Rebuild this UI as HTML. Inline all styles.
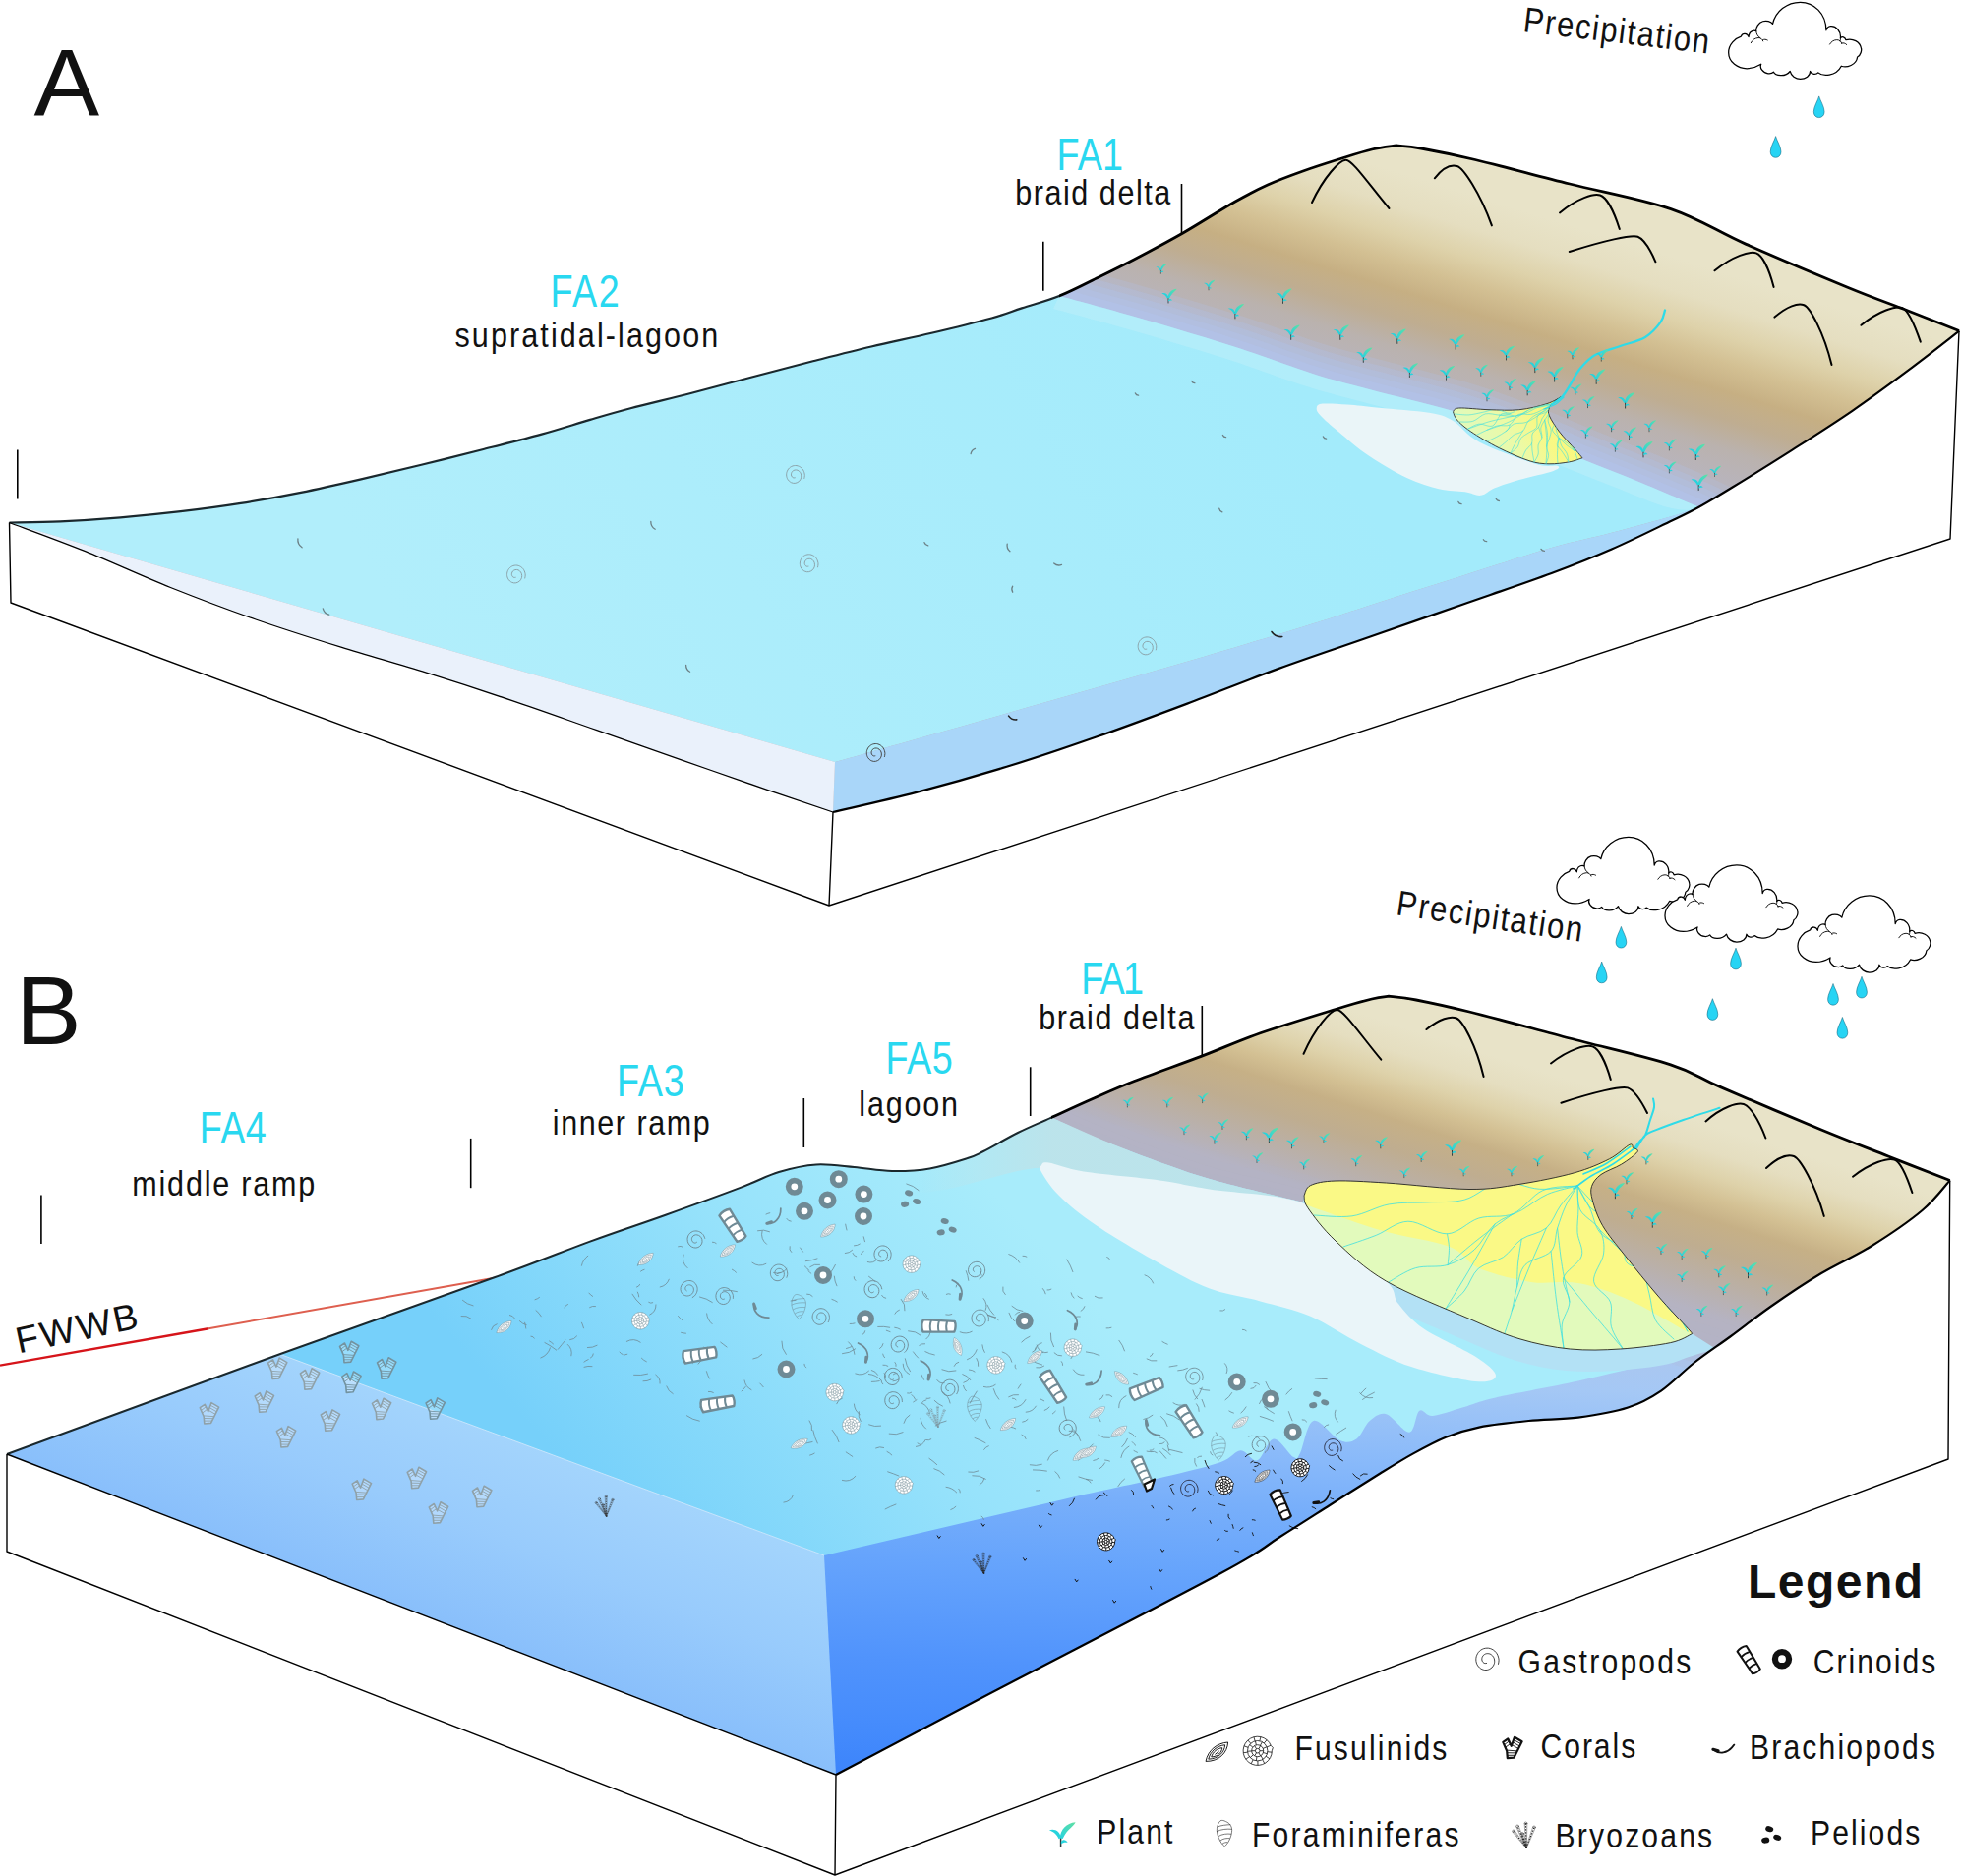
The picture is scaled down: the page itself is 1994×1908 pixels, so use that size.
<!DOCTYPE html>
<html><head><meta charset="utf-8"><title>Depositional model</title>
<style>
html,body{margin:0;padding:0;background:#fff;}
svg{display:block;}
text{font-family:"Liberation Sans",sans-serif;}
</style></head><body>
<svg width="1994" height="1908" viewBox="0 0 1994 1908">
<defs>
<linearGradient id="hillA" gradientUnits="userSpaceOnUse" x1="1528" y1="207.7" x2="1467.7" y2="402.5">
<stop offset="0" stop-color="#e8e3c8"/><stop offset="0.16" stop-color="#e5dec0"/><stop offset="0.30" stop-color="#ded2aa"/><stop offset="0.43" stop-color="#d3c093"/>
<stop offset="0.564" stop-color="#c6af83"/><stop offset="0.70" stop-color="#bfad91"/><stop offset="0.84" stop-color="#bab2ae"/>
<stop offset="1" stop-color="#b8b4bc"/></linearGradient>
<linearGradient id="waterA" gradientUnits="userSpaceOnUse" x1="1300" y1="350" x2="500" y2="800">
<stop offset="0" stop-color="#a3ebfb"/><stop offset="1" stop-color="#b1eefb"/></linearGradient>
<linearGradient id="deltaA" gradientUnits="userSpaceOnUse" x1="1592" y1="412" x2="1512" y2="462">
<stop offset="0" stop-color="#faf77d"/><stop offset="0.35" stop-color="#f8f884"/><stop offset="0.65" stop-color="#ecfaa6"/><stop offset="1" stop-color="#e2fab8"/></linearGradient>
<linearGradient id="hillB" gradientUnits="userSpaceOnUse" x1="1522" y1="1074.8" x2="1466" y2="1251.2">
<stop offset="0" stop-color="#e8e3c8"/><stop offset="0.14" stop-color="#e5dec0"/><stop offset="0.27" stop-color="#ded2aa"/><stop offset="0.39" stop-color="#d3c093"/>
<stop offset="0.5" stop-color="#c6b086"/><stop offset="0.66" stop-color="#bfad90"/><stop offset="0.83" stop-color="#bab0a8"/>
<stop offset="1" stop-color="#b5b3c2"/></linearGradient>
<linearGradient id="midB" gradientUnits="userSpaceOnUse" x1="560" y1="1479" x2="488" y2="1665">
<stop offset="0" stop-color="#a3d4fc"/><stop offset="0.5" stop-color="#98cbfc"/><stop offset="1" stop-color="#89bffb"/></linearGradient>
<linearGradient id="innerB" gradientUnits="userSpaceOnUse" x1="1000" y1="1200" x2="620" y2="1540">
<stop offset="0" stop-color="#a8ecfb"/><stop offset="0.45" stop-color="#96e2fb"/><stop offset="1" stop-color="#76d0fa"/></linearGradient>
<linearGradient id="deepB" gradientUnits="userSpaceOnUse" x1="850" y1="1805" x2="873" y2="1330">
<stop offset="0" stop-color="#3c84fb"/><stop offset="0.12" stop-color="#468cfc"/><stop offset="0.25" stop-color="#5093fc"/><stop offset="0.47" stop-color="#66a4fc"/>
<stop offset="0.62" stop-color="#78affa"/><stop offset="0.72" stop-color="#88b9fa"/><stop offset="0.9" stop-color="#a5c8f5"/><stop offset="1" stop-color="#acc6ee"/></linearGradient>
<linearGradient id="fadeB" gradientUnits="userSpaceOnUse" x1="930" y1="0" x2="1070" y2="0">
<stop offset="0" stop-color="#bfe2e8" stop-opacity="0"/><stop offset="1" stop-color="#bfe2e8" stop-opacity="0.85"/></linearGradient>
<linearGradient id="leaf" x1="0" y1="1" x2="1" y2="0"><stop offset="0" stop-color="#27d3e0"/><stop offset="1" stop-color="#62e0a2"/></linearGradient>
<linearGradient id="redline" gradientUnits="userSpaceOnUse" x1="0" y1="1388" x2="503" y2="1300">
<stop offset="0" stop-color="#d6141a"/><stop offset="0.4" stop-color="#d9201f"/><stop offset="0.45" stop-color="#e0685a"/><stop offset="1" stop-color="#e58070"/></linearGradient>
<g id="cloud"><path d="M335,410C270,430 195,500 195,590C195,700 300,770 400,770C470,770 520,745 560,720C540,760 580,820 640,825C670,828 690,818 700,808C720,850 830,870 885,800C895,850 950,888 1000,888C1060,888 1110,850 1110,800C1125,840 1180,840 1200,815C1250,860 1400,860 1460,742C1520,765 1630,730 1640,640C1680,620 1690,560 1682,540C1670,470 1590,425 1510,448C1505,420 1465,400 1450,430C1460,350 1400,290 1340,295C1315,298 1295,320 1290,340C1290,150 1150,25 1000,25C850,25 720,130 690,270C670,240 620,228 580,240C530,255 500,310 505,350C480,335 440,350 428,380C422,395 420,405 420,415C405,370 350,365 335,410Z" fill="#fff" stroke="#000" stroke-width="14" stroke-linejoin="round"/><path d="M445,482C460,450 490,428 530,425C555,425 575,440 582,462M580,448C595,440 615,442 632,452M505,350C508,385 525,410 548,425M1330,497C1345,470 1375,448 1410,448C1440,448 1460,468 1466,490M1462,486C1480,478 1505,485 1520,502M1450,430C1452,445 1450,455 1446,462" fill="none" stroke="#000" stroke-width="10" stroke-linecap="round"/></g>
<path id="drop" d="M0,0C1.2,4.5 5.4,10.5 5.4,15.8C5.4,19.4 3,21.7 0,21.7C-3,21.7 -5.4,19.4 -5.4,15.8C-5.4,10.5 -1.2,4.5 0,0Z" fill="#27d4f4" stroke="#0b5a73" stroke-width="0.5"/>
<g id="plant"><path d="M0,-0.5L0,9" stroke="#2a3a3a" stroke-width="1.2" fill="none"/><path d="M0.2,1.2C-0.4,-3.8 -4.6,-6.6 -9.4,-5C-6,-3.6 -3.2,-1.8 -1.6,2.2Z" fill="#27d3dc"/><path d="M-0.6,1.6C-0.4,-5.4 4.6,-10.8 12,-11.4C10.6,-7.8 5.6,-6.4 1.6,2Z" fill="url(#leaf)"/><path d="M0.2,4.4C1.6,2.2 4.4,2.6 5.6,5.2C3.6,4.8 1.6,5.2 0.2,6.4Z" fill="#27d3dc"/></g>
<path id="gas" d="M11.9,3.9C12,3.3 12.5,1.4 12.5,0.2C12.5,-1 12.3,-2.3 11.9,-3.4C11.6,-4.6 11.1,-5.7 10.5,-6.7C9.8,-7.7 9.1,-8.7 8.2,-9.4C7.3,-10.2 6.3,-10.9 5.3,-11.3C4.3,-11.8 3.2,-12.1 2.1,-12.3C1,-12.4 -0.2,-12.4 -1.3,-12.2C-2.3,-12.1 -3.4,-11.7 -4.4,-11.2C-5.4,-10.7 -6.3,-10.1 -7.1,-9.3C-7.9,-8.6 -8.6,-7.7 -9.1,-6.8C-9.7,-5.8 -10.1,-4.8 -10.4,-3.8C-10.7,-2.7 -10.8,-1.6 -10.8,-0.6C-10.8,0.5 -10.6,1.6 -10.3,2.6C-10,3.6 -9.6,4.5 -9,5.4C-8.5,6.2 -7.8,7 -7.1,7.6C-6.3,8.3 -5.5,8.8 -4.7,9.2C-3.8,9.6 -2.9,9.8 -2,10C-1.1,10.1 -0.1,10 0.7,9.9C1.6,9.7 2.5,9.4 3.2,9C4,8.6 4.7,8.1 5.4,7.5C6,6.9 6.5,6.2 6.9,5.5C7.3,4.7 7.7,3.9 7.9,3.1C8.1,2.3 8.1,1.5 8.1,0.7C8.1,-0.1 7.9,-0.9 7.7,-1.7C7.5,-2.4 7.1,-3.1 6.7,-3.7C6.3,-4.3 5.8,-4.9 5.2,-5.3C4.7,-5.8 4.1,-6.1 3.5,-6.4C2.9,-6.6 2.2,-6.8 1.6,-6.8C0.9,-6.9 0.3,-6.8 -0.3,-6.7C-0.9,-6.6 -1.5,-6.3 -2,-6C-2.5,-5.7 -2.9,-5.4 -3.3,-5C-3.7,-4.5 -4,-4.1 -4.2,-3.6C-4.5,-3.1 -4.6,-2.6 -4.7,-2.1C-4.8,-1.6 -4.8,-1 -4.8,-0.6C-4.7,-0.1 -4.6,0.4 -4.4,0.8C-4.2,1.2 -4,1.6 -3.7,1.9C-3.4,2.2 -3.1,2.5 -2.8,2.7C-2.5,2.9 -2.1,3 -1.8,3.1C-1.5,3.2 -1.1,3.2 -0.8,3.1C-0.5,3.1 -0.1,2.9 0,2.9" fill="none" stroke-linecap="round"/>
<g id="ring"><circle r="6.3" fill="none" stroke-width="5.6"/></g>
<g id="stem"><path d="M-15,-5.2C-16.5,-2 -16.5,3 -15,6.4L14.5,5.2C15.8,2.5 15.8,-2.2 14.5,-4.6Z" stroke-width="2.2" stroke-linejoin="round"/><path d="M-7.5,-5C-8.6,-1.5 -8.6,3 -7.5,6M0,-4.9C-1,-1.5 -1,2.8 0,5.7M7.5,-4.8C6.6,-1.6 6.6,2.6 7.5,5.4" fill="none" stroke-width="1.8"/></g>
<g id="lens"><path d="M-15,3C-8,-7 4,-10 15,-6C10,4 -2,9 -15,3Z"/><path d="M-11.4,2C-6,-5 3,-7.4 11,-4.6C7,2.6 -2,6 -11.4,2Z"/><path d="M-7.6,1.2C-4,-3.2 2,-4.8 7,-3C4.4,1.4 -1.4,3.6 -7.6,1.2Z"/><path d="M-3,0.3L2.6,-1.2" /></g>
<g id="rfus"><path d="M14.6,0A14.6,14.6 0 1 1 13.6,-5.2L15.6,-3.2Z"/><circle r="10.2" fill="none"/><circle r="6" fill="none"/><circle r="2.3" fill="none"/><path d="M10.1,1L14.5,1.5M8.5,5.6L12.2,8M4.9,8.9L7.1,12.8M0.2,10.2L0.3,14.6M-4.6,9.1L-6.5,13.1M-8.3,6L-11.8,8.5M-10.1,1.4L-14.5,2.1M-9.6,-3.4L-13.8,-4.9M-6.9,-7.5L-9.9,-10.7M-2.6,-9.9L-3.8,-14.1M2.2,-10L3.2,-14.2M6.6,-7.8L9.5,-11.1M9.5,-3.8L13.5,-5.5M5.7,1.8L9.7,3M3.3,5L5.5,8.6M-0.8,6L-1.3,10.1M-4.4,4.1L-7.5,6.9M-6,0.3L-10.2,0.5M-4.8,-3.6L-8.1,-6.2M-1.3,-5.9L-2.3,-9.9M2.7,-5.3L4.7,-9.1M5.5,-2.3L9.4,-4M2.3,0L6,0M1.2,2L3,5.2M-1.1,2L-3,5.2M-2.3,0L-6,0M-1.2,-2L-3,-5.2M1.2,-2L3,-5.2" fill="none"/></g>
<g id="coral"><path d="M-9.5,-5.6L-4.5,-9L-1.1,-1.7L2.2,-10.7L9.8,-6.2L1.7,10.1L-5,10.7L-5.6,3.4Z" stroke-linejoin="round"/><path d="M-8.2,-3L-3.6,-6.4M-7,-0.4L-2.6,-3.6M1.4,-8L8.6,-4M0.8,-5.4L7.4,-1.6M0,-2.6L6.2,1M-5.6,2.6L5,3.4M-5.4,5.2L4,5.4M-5.2,7.8L2.8,7.8" fill="none" stroke-width="0.9"/></g>
<g id="brach" fill="none" stroke-linecap="round"><path d="M-10.5,0.8C-5,5 4,5.4 10.6,-4.4" stroke-width="1.8"/><path d="M-10.8,0.2L-5.6,1.6" stroke-width="3"/></g>
<g id="foram" fill="none"><path d="M-3.6,-13C-7.8,-9 -8.6,-2 -5.4,4.6C-3.8,8.4 -1.6,11.6 0.6,13.2C3.6,10.6 7,5 7.8,-1.4C8.6,-6.6 6,-10.6 1.6,-12.2C0,-13.2 -2,-13.6 -3.6,-13Z"/><path d="M-7,-6.6C-3,-8.4 2.4,-8.8 6.6,-9M-7.6,-2C-3,-4.4 3,-4.8 8,-4.4M-6,3C-2,0.4 3.4,0 7.4,0.6M-4,7.4C-1,5 3,4.6 5.8,5M-1.8,10.6C0,9.2 2,8.8 3.6,9"/></g>
<g id="bryo" fill="none" stroke-linecap="round"><path d="M1.8,12.3L-10.5,-5.3M1.2,12.7L-12.5,-3.7" stroke-width="0.4"/><path d="M1.5,12.5L-11.5,-4.5" stroke-width="1.0" stroke-dasharray="0.8 2.2"/><circle cx="-11.5" cy="-4.5" r="1.3" stroke-width="0.45"/><path d="M1.9,12.4L-6.3,-10M1.1,12.6L-8.7,-9" stroke-width="0.4"/><path d="M1.5,12.5L-7.5,-9.5" stroke-width="1.0" stroke-dasharray="0.8 2.2"/><circle cx="-7.5" cy="-9.5" r="1.3" stroke-width="0.45"/><path d="M1.9,12.5L2.3,-12.5M1.1,12.5L-0.3,-12.5" stroke-width="0.4"/><path d="M1.5,12.5L1,-12.5" stroke-width="1.0" stroke-dasharray="0.8 2.2"/><circle cx="1" cy="-12.5" r="1.3" stroke-width="0.45"/><path d="M1.9,12.6L10.7,-8M1.1,12.4L8.3,-9" stroke-width="0.4"/><path d="M1.5,12.5L9.5,-8.5" stroke-width="1.0" stroke-dasharray="0.8 2.2"/><circle cx="9.5" cy="-8.5" r="1.3" stroke-width="0.45"/><path d="M1.9,12.4L-1.2,-2.3M1.1,12.6L-3.8,-1.7" stroke-width="0.4"/><path d="M1.5,12.5L-2.5,-2" stroke-width="1.0" stroke-dasharray="0.8 2.2"/><circle cx="-2.5" cy="-2" r="1.3" stroke-width="0.45"/></g>
<g id="pel"><ellipse cx="1.2" cy="-5.2" rx="4.1" ry="2.9" transform="rotate(15 1.2 -5.2)"/><ellipse cx="9.2" cy="3.4" rx="4.1" ry="2.8" transform="rotate(20 9.2 3.4)"/><ellipse cx="-2.8" cy="6.2" rx="4.1" ry="3" transform="rotate(-10 -2.8 6.2)"/></g>
</defs>
<g id="panelA">
<clipPath id="clipA"><path d="M9.5,531.5C18.1,531.3 42.4,531.2 61.2,530.3C80,529.4 102,528 122.4,526.3C142.8,524.6 163.2,522.6 183.6,520.2C204,517.8 224.4,515.1 244.8,511.9C265.2,508.7 285.6,505 306,500.9C326.4,496.8 346.8,492.1 367.2,487.4C387.6,482.7 408,477.8 428.4,472.8C448.8,467.8 469.1,462.7 489.5,457.5C509.9,452.3 532.3,446.7 550.7,441.6C569.1,436.5 584.9,431.3 600,426.9C615.1,422.5 624.1,419.8 641.2,415.3C658.3,410.8 682,405.3 702.4,400C722.8,394.7 743.2,389.1 763.6,383.7C784,378.3 804.4,373 824.8,367.8C845.2,362.6 865.6,357.3 886,352.5C906.4,347.7 926.8,343.6 947.2,338.8C967.6,334 993.1,327.7 1008.4,323.5C1023.7,319.3 1027.6,317.1 1039,313.4C1050.4,309.6 1064.3,306.1 1077,301C1089.7,295.9 1102.3,289.2 1115,283C1127.7,276.8 1138.5,271.6 1153,264C1167.5,256.4 1184.8,247.3 1202,237.5C1219.2,227.7 1241.5,213.2 1256,205C1270.5,196.8 1277.5,193.2 1289,188C1300.5,182.8 1312.7,178.4 1325,174C1337.3,169.6 1351.3,165.2 1363,161.5C1374.7,157.8 1385.5,154.2 1395,152C1404.5,149.8 1415.8,148.7 1420,148C1424.2,148.5 1431.7,148.6 1445,151C1458.3,153.4 1474.8,156.5 1500,162.5C1525.2,168.5 1562.8,178.7 1596,187C1629.2,195.3 1669.1,202.4 1699,212.6C1728.9,222.8 1745.7,235.2 1775.5,248.4C1805.3,261.6 1850.6,280.7 1878,292C1905.4,303.3 1921,308.6 1940,316C1959,323.4 1983.3,333.1 1992,336.5C1984.3,342.8 1962.8,359.9 1944.7,373.4C1926.6,386.9 1903.9,403.8 1883.5,417.8C1863.1,431.8 1842.8,444.6 1822.4,457.6C1802,470.6 1777,486.1 1761.2,495.8C1745.4,505.5 1737.7,510.1 1727.5,515.7C1717.3,521.3 1714.8,522.4 1700,529.5C1685.2,536.6 1659.2,549.6 1638.8,558.5C1618.4,567.4 1603.1,573.5 1577.6,583C1552.1,592.5 1516.4,604.5 1485.8,615.2C1455.2,625.9 1425.1,636.4 1394,647.3C1362.9,658.2 1330.1,669 1299,680.4C1267.9,691.8 1237.8,704.1 1207.2,715.6C1176.6,727.1 1146,738.6 1115.4,749.3C1084.8,760 1054.2,770.4 1023.6,779.8C993,789.2 961.2,798.2 931.8,805.9C902.4,813.6 861.1,822.6 847,826C835.9,822.2 805.8,812.2 780.2,803.4C754.6,794.6 722.4,783.2 693.5,773.1C664.6,763 635.8,752.8 606.9,742.7C578,732.6 549.1,722.1 520.2,712.4C491.3,702.6 462.4,693.2 433.5,684.2C404.6,675.2 375.7,667.2 346.8,658.2C317.9,649.2 288.9,640.1 260,630C231.1,619.9 202.3,609 173.4,597.5C144.5,586 114,571.7 86.7,560.7C59.4,549.7 22.4,536.4 9.5,531.5Z"/></clipPath>
<path d="M9.5,531.5C18.1,531.3 42.4,531.2 61.2,530.3C80,529.4 102,528 122.4,526.3C142.8,524.6 163.2,522.6 183.6,520.2C204,517.8 224.4,515.1 244.8,511.9C265.2,508.7 285.6,505 306,500.9C326.4,496.8 346.8,492.1 367.2,487.4C387.6,482.7 408,477.8 428.4,472.8C448.8,467.8 469.1,462.7 489.5,457.5C509.9,452.3 532.3,446.7 550.7,441.6C569.1,436.5 584.9,431.3 600,426.9C615.1,422.5 624.1,419.8 641.2,415.3C658.3,410.8 682,405.3 702.4,400C722.8,394.7 743.2,389.1 763.6,383.7C784,378.3 804.4,373 824.8,367.8C845.2,362.6 865.6,357.3 886,352.5C906.4,347.7 926.8,343.6 947.2,338.8C967.6,334 993.1,327.7 1008.4,323.5C1023.7,319.3 1027.6,317.1 1039,313.4C1050.4,309.6 1064.3,306.1 1077,301C1089.7,295.9 1102.3,289.2 1115,283C1127.7,276.8 1138.5,271.6 1153,264C1167.5,256.4 1184.8,247.3 1202,237.5C1219.2,227.7 1241.5,213.2 1256,205C1270.5,196.8 1277.5,193.2 1289,188C1300.5,182.8 1312.7,178.4 1325,174C1337.3,169.6 1351.3,165.2 1363,161.5C1374.7,157.8 1385.5,154.2 1395,152C1404.5,149.8 1415.8,148.7 1420,148C1424.2,148.5 1431.7,148.6 1445,151C1458.3,153.4 1474.8,156.5 1500,162.5C1525.2,168.5 1562.8,178.7 1596,187C1629.2,195.3 1669.1,202.4 1699,212.6C1728.9,222.8 1745.7,235.2 1775.5,248.4C1805.3,261.6 1850.6,280.7 1878,292C1905.4,303.3 1921,308.6 1940,316C1959,323.4 1983.3,333.1 1992,336.5L1983,548L843,921L11,613Z" fill="#fff" stroke="none"/>
<g clip-path="url(#clipA)">
<rect x="0" y="100" width="1994" height="800" fill="url(#hillA)"/>
<path d="M1040,290C1046.2,291.8 1058.7,295.8 1077,301C1095.3,306.2 1121.2,312.7 1150,321C1178.8,329.3 1219.2,341.2 1250,351C1280.8,360.8 1310.7,372.4 1334.7,380C1358.7,387.6 1370.3,390.1 1394,396.4C1417.7,402.7 1451.4,410.4 1476.6,417.8C1501.8,425.2 1523.1,432.8 1545,441C1566.9,449.2 1587.5,458.4 1608.2,466.8C1628.9,475.2 1649.5,483 1669.4,491.2C1689.3,499.4 1712.4,508.9 1727.5,515.7C1742.6,522.5 1754.6,529.3 1760,532" fill="none" stroke="#b1c4ee" stroke-width="64" opacity="0.22"/>
<path d="M1040,290C1046.2,291.8 1058.7,295.8 1077,301C1095.3,306.2 1121.2,312.7 1150,321C1178.8,329.3 1219.2,341.2 1250,351C1280.8,360.8 1310.7,372.4 1334.7,380C1358.7,387.6 1370.3,390.1 1394,396.4C1417.7,402.7 1451.4,410.4 1476.6,417.8C1501.8,425.2 1523.1,432.8 1545,441C1566.9,449.2 1587.5,458.4 1608.2,466.8C1628.9,475.2 1649.5,483 1669.4,491.2C1689.3,499.4 1712.4,508.9 1727.5,515.7C1742.6,522.5 1754.6,529.3 1760,532" fill="none" stroke="#b1c4ee" stroke-width="52" opacity="0.25"/>
<path d="M1040,290C1046.2,291.8 1058.7,295.8 1077,301C1095.3,306.2 1121.2,312.7 1150,321C1178.8,329.3 1219.2,341.2 1250,351C1280.8,360.8 1310.7,372.4 1334.7,380C1358.7,387.6 1370.3,390.1 1394,396.4C1417.7,402.7 1451.4,410.4 1476.6,417.8C1501.8,425.2 1523.1,432.8 1545,441C1566.9,449.2 1587.5,458.4 1608.2,466.8C1628.9,475.2 1649.5,483 1669.4,491.2C1689.3,499.4 1712.4,508.9 1727.5,515.7C1742.6,522.5 1754.6,529.3 1760,532" fill="none" stroke="#b1c4ee" stroke-width="40" opacity="0.3"/>
<path d="M1040,290C1046.2,291.8 1058.7,295.8 1077,301C1095.3,306.2 1121.2,312.7 1150,321C1178.8,329.3 1219.2,341.2 1250,351C1280.8,360.8 1310.7,372.4 1334.7,380C1358.7,387.6 1370.3,390.1 1394,396.4C1417.7,402.7 1451.4,410.4 1476.6,417.8C1501.8,425.2 1523.1,432.8 1545,441C1566.9,449.2 1587.5,458.4 1608.2,466.8C1628.9,475.2 1649.5,483 1669.4,491.2C1689.3,499.4 1712.4,508.9 1727.5,515.7C1742.6,522.5 1754.6,529.3 1760,532" fill="none" stroke="#b1c4ee" stroke-width="28" opacity="0.35"/>
<path d="M1040,290C1046.2,291.8 1058.7,295.8 1077,301C1095.3,306.2 1121.2,312.7 1150,321C1178.8,329.3 1219.2,341.2 1250,351C1280.8,360.8 1310.7,372.4 1334.7,380C1358.7,387.6 1370.3,390.1 1394,396.4C1417.7,402.7 1451.4,410.4 1476.6,417.8C1501.8,425.2 1523.1,432.8 1545,441C1566.9,449.2 1587.5,458.4 1608.2,466.8C1628.9,475.2 1649.5,483 1669.4,491.2C1689.3,499.4 1712.4,508.9 1727.5,515.7C1742.6,522.5 1754.6,529.3 1760,532" fill="none" stroke="#b1c4ee" stroke-width="16" opacity="0.45"/>
<path d="M9.5,531.5C18.1,531.3 42.4,531.2 61.2,530.3C80,529.4 102,528 122.4,526.3C142.8,524.6 163.2,522.6 183.6,520.2C204,517.8 224.4,515.1 244.8,511.9C265.2,508.7 285.6,505 306,500.9C326.4,496.8 346.8,492.1 367.2,487.4C387.6,482.7 408,477.8 428.4,472.8C448.8,467.8 469.1,462.7 489.5,457.5C509.9,452.3 532.3,446.7 550.7,441.6C569.1,436.5 584.9,431.3 600,426.9C615.1,422.5 624.1,419.8 641.2,415.3C658.3,410.8 682,405.3 702.4,400C722.8,394.7 743.2,389.1 763.6,383.7C784,378.3 804.4,373 824.8,367.8C845.2,362.6 865.6,357.3 886,352.5C906.4,347.7 926.8,343.6 947.2,338.8C967.6,334 993.1,327.7 1008.4,323.5C1023.7,319.3 1027.6,317.1 1039,313.4C1050.4,309.6 1070.7,303.1 1077,301C1089.2,304.3 1121.2,312.7 1150,321C1178.8,329.3 1219.2,341.2 1250,351C1280.8,360.8 1310.7,372.4 1334.7,380C1358.7,387.6 1370.3,390.1 1394,396.4C1417.7,402.7 1451.4,410.4 1476.6,417.8C1501.8,425.2 1523.1,432.8 1545,441C1566.9,449.2 1587.5,458.4 1608.2,466.8C1628.9,475.2 1649.5,483 1669.4,491.2C1689.3,499.4 1717.8,511.6 1727.5,515.7C1722.9,517.2 1714.8,520.6 1700,524.9C1685.2,529.2 1659.2,536.4 1638.8,541.7C1618.4,547.1 1603.1,549.6 1577.6,557C1552.1,564.4 1516.4,576.3 1485.8,586C1455.2,595.7 1420,606.9 1394,615.2C1368,623.5 1360.7,626.4 1329.6,636C1298.5,645.6 1248,660.8 1207.2,672.8C1166.4,684.8 1125.6,696.3 1084.8,708C1044,719.7 1001.7,731.9 962.4,743.1C923.1,754.3 867.9,769.7 849,775L9.5,531.5Z" fill="url(#waterA)"/>
<path d="M1077,301C1089.2,304.3 1121.2,312.7 1150,321C1178.8,329.3 1219.2,341.2 1250,351C1280.8,360.8 1310.7,372.4 1334.7,380C1358.7,387.6 1370.3,390.1 1394,396.4C1417.7,402.7 1451.4,410.4 1476.6,417.8C1501.8,425.2 1523.1,432.8 1545,441C1566.9,449.2 1587.5,458.4 1608.2,466.8C1628.9,475.2 1649.5,483 1669.4,491.2C1689.3,499.4 1717.8,511.6 1727.5,515.7C1711.8,524.6 1683.3,512.4 1663.4,504.2C1643.5,496 1622.9,488.2 1602.2,479.8C1581.5,471.4 1560.9,462.2 1539,454C1517.1,445.8 1495.8,438.2 1470.6,430.8C1445.4,423.4 1411.7,415.7 1388,409.4C1364.3,403.1 1352.7,400.6 1328.7,393C1304.7,385.4 1274.8,373.8 1244,364C1213.2,354.2 1172.8,342.3 1144,334C1115.2,325.7 1083.2,317.3 1071,314Z" fill="#c4eff8" opacity="0.45"/>
<path d="M849,775C867.9,769.7 923.1,754.3 962.4,743.1C1001.7,731.9 1044,719.7 1084.8,708C1125.6,696.3 1166.4,684.8 1207.2,672.8C1248,660.8 1298.5,645.6 1329.6,636C1360.7,626.4 1368,623.5 1394,615.2C1420,606.9 1455.2,595.7 1485.8,586C1516.4,576.3 1552.1,564.4 1577.6,557C1603.1,549.6 1618.4,547.1 1638.8,541.7C1659.2,536.4 1685.2,529.2 1700,524.9C1714.8,520.6 1722.9,517.2 1727.5,515.7C1722.9,518 1714.8,522.4 1700,529.5C1685.2,536.6 1659.2,549.6 1638.8,558.5C1618.4,567.4 1603.1,573.5 1577.6,583C1552.1,592.5 1516.4,604.5 1485.8,615.2C1455.2,625.9 1425.1,636.4 1394,647.3C1362.9,658.2 1330.1,669 1299,680.4C1267.9,691.8 1237.8,704.1 1207.2,715.6C1176.6,727.1 1146,738.6 1115.4,749.3C1084.8,760 1054.2,770.4 1023.6,779.8C993,789.2 961.2,798.2 931.8,805.9C902.4,813.6 861.1,822.6 847,826Z" fill="#a9d6f9"/>
<path d="M9.5,531.5L849,775L847,826C835.9,822.2 805.8,812.2 780.2,803.4C754.6,794.6 722.4,783.2 693.5,773.1C664.6,763 635.8,752.8 606.9,742.7C578,732.6 549.1,722.1 520.2,712.4C491.3,702.6 462.4,693.2 433.5,684.2C404.6,675.2 375.7,667.2 346.8,658.2C317.9,649.2 288.9,640.1 260,630C231.1,619.9 202.3,609 173.4,597.5C144.5,586 114,571.7 86.7,560.7C59.4,549.7 22.4,536.4 9.5,531.5Z" fill="#eaf1fb"/>
</g>
<path d="M1338.8,414.7C1339.2,412.7 1339.8,411.1 1345,410.6C1350.2,410.1 1360.5,410.8 1370,411.5C1379.5,412.2 1388.2,413.3 1402,414.7C1415.8,416.1 1440.4,417.6 1453,419.8C1465.6,422 1469,423.1 1477.5,428C1486,432.9 1490.1,442.1 1504,449.4C1517.9,456.7 1547.8,467.7 1561,471.8C1574.2,475.9 1580.4,472.6 1583.5,473.8C1586.6,475 1586,476.6 1579.5,479C1573,481.4 1554.7,485.1 1544.8,488C1534.9,490.9 1526.5,493.7 1520,496.3C1513.5,498.9 1511,503.1 1506,503.8C1501,504.5 1496.9,501.4 1489.7,500.3C1482.5,499.2 1472.9,499.7 1463,497.3C1453.1,494.9 1442.4,491.6 1430.5,486C1418.6,480.4 1403.4,471.4 1391.8,463.6C1380.2,455.8 1369.2,445.8 1361,439C1352.8,432.2 1346.5,426.9 1342.8,422.8C1339.1,418.8 1338.4,416.7 1338.8,414.7Z" fill="#eaf5f8"/>
<path d="M1589.6,402.4C1586.8,403.8 1580.5,408.2 1573,410.6C1565.5,413 1554.6,415.7 1544.8,416.7C1535,417.7 1524.2,417 1514,416.7C1503.8,416.4 1489.7,414.6 1483.6,415C1477.5,415.4 1478.5,418.2 1477.5,418.8C1478.2,420.2 1478.5,423.6 1481.5,427C1484.5,430.4 1488.7,434.2 1495.8,439C1502.9,443.8 1514.1,450.6 1524,455.5C1533.9,460.4 1546.5,466 1555,468.7C1563.5,471.4 1568.2,471.6 1575,471.8C1581.8,472 1590.1,470.8 1595.8,469.8C1601.5,468.8 1606.8,466.4 1609,465.7C1607.8,464.3 1605.9,461.9 1602,457.5C1598.1,453.1 1589.9,444.8 1585.5,439C1581.1,433.2 1577.1,426.9 1575.4,422.8C1573.7,418.8 1574.5,417.2 1575.4,414.7C1576.3,412.2 1578.6,410.1 1581,408C1583.4,405.9 1588.2,403.3 1589.6,402.4Z" fill="url(#deltaA)" stroke="#2b2b2b" stroke-width="0.9"/>
<clipPath id="clipDA"><path d="M1589.6,402.4C1586.8,403.8 1580.5,408.2 1573,410.6C1565.5,413 1554.6,415.7 1544.8,416.7C1535,417.7 1524.2,417 1514,416.7C1503.8,416.4 1489.7,414.6 1483.6,415C1477.5,415.4 1478.5,418.2 1477.5,418.8C1478.2,420.2 1478.5,423.6 1481.5,427C1484.5,430.4 1488.7,434.2 1495.8,439C1502.9,443.8 1514.1,450.6 1524,455.5C1533.9,460.4 1546.5,466 1555,468.7C1563.5,471.4 1568.2,471.6 1575,471.8C1581.8,472 1590.1,470.8 1595.8,469.8C1601.5,468.8 1606.8,466.4 1609,465.7C1607.8,464.3 1605.9,461.9 1602,457.5C1598.1,453.1 1589.9,444.8 1585.5,439C1581.1,433.2 1577.1,426.9 1575.4,422.8C1573.7,418.8 1574.5,417.2 1575.4,414.7C1576.3,412.2 1578.6,410.1 1581,408C1583.4,405.9 1588.2,403.3 1589.6,402.4Z"/></clipPath>
<path d="M1578,411C1575.7,411.5 1568.8,414 1564,414.2C1559.3,414.5 1554.2,411.5 1549.6,412.5C1544.9,413.5 1540.8,419.6 1536.1,420.2C1531.4,420.9 1526.2,416.4 1521.4,416.3C1516.6,416.2 1512.1,418.5 1507.4,419.4C1502.7,420.3 1498.1,421.6 1493.4,421.9C1488.6,422.1 1481.4,421.1 1479,421M1578,411C1575.8,411.5 1569,412.4 1564.6,413.9C1560.3,415.4 1556.2,418.4 1551.9,420C1547.5,421.5 1543.2,422.9 1538.6,423.3C1534,423.6 1529.2,422.5 1524.4,422.1C1519.7,421.7 1514.7,419.9 1510.3,420.9C1505.9,422 1502.2,426.9 1497.8,428.3C1493.4,429.6 1486.3,428.9 1484,429M1578,411C1575.9,411.3 1569.2,411.5 1565.1,412.6C1561,413.7 1557.2,415.9 1553.2,417.6C1549.3,419.4 1545.8,422.5 1541.5,423C1537.2,423.5 1531.4,419 1527.4,420.7C1523.4,422.3 1521.6,431.2 1517.7,433C1513.7,434.7 1508.1,430.6 1503.8,431.2C1499.5,431.8 1494,435.6 1492,436.5M1578,411C1576.3,412 1571.2,415.4 1567.7,417.1C1564.1,418.8 1560.6,420.7 1556.6,421.4C1552.6,422.2 1547.3,419.8 1543.8,421.5C1540.2,423.3 1538.7,430.1 1535.2,432C1531.7,433.9 1526.7,432 1522.7,432.9C1518.8,433.8 1515.4,435.8 1511.8,437.4C1508.1,439 1502.8,441.7 1501,442.5M1578,411C1576.6,412.2 1572.4,415.7 1569.5,418C1566.6,420.3 1563.9,422.8 1560.8,424.8C1557.7,426.7 1554.7,428.6 1551.1,429.7C1547.5,430.8 1542.8,429.7 1539.4,431.2C1536.1,432.7 1534.1,436.4 1531.1,438.6C1528.2,440.8 1525,442.5 1521.8,444.3C1518.6,446 1513.6,448.2 1512,449M1578,411C1576.8,412.2 1573.6,416.1 1570.8,418C1568,419.8 1564.1,420.3 1561.2,422.1C1558.4,423.9 1555.8,426 1553.7,428.7C1551.6,431.4 1551,435.9 1548.6,438.2C1546.1,440.5 1541.9,440.6 1539.1,442.4C1536.3,444.2 1534.2,446.9 1531.7,449.1C1529.1,451.3 1525.3,454.4 1524,455.5M1578,411C1577.1,412.3 1575,416.6 1572.6,418.7C1570.2,420.7 1565.2,420.6 1563.5,423.2C1561.8,425.8 1564,431.7 1562.5,434.5C1561,437.3 1557.2,438.2 1554.5,440C1551.9,441.9 1548.6,443.1 1546.7,445.6C1544.7,448 1544.8,452.1 1543,454.7C1541.2,457.3 1537.2,459.9 1536,461M1578,411C1577.2,412.3 1574.9,416.1 1573.2,418.6C1571.5,421 1569.3,423.3 1567.9,425.9C1566.5,428.5 1566.2,431.8 1564.6,434.3C1563,436.8 1559.3,438.2 1558.2,441C1557,443.7 1558.7,448.1 1557.6,450.9C1556.6,453.7 1553.3,455.3 1551.7,457.8C1550.1,460.3 1548.6,464.6 1548,466M1578,411C1577.6,412.4 1576.8,416.8 1575.6,419.5C1574.4,422.2 1572.2,424.6 1570.7,427.2C1569.3,429.8 1567.3,432.3 1566.8,435.2C1566.4,438.2 1568.4,441.8 1567.9,444.8C1567.5,447.7 1564.8,450 1564.1,452.8C1563.5,455.7 1564.8,459.2 1564.1,462C1563.4,464.9 1560.7,468.7 1560,470M1578,411C1577.6,412.4 1576,416.7 1575.4,419.5C1574.8,422.4 1573.9,425.2 1574.2,428.2C1574.5,431.1 1576.9,434.3 1577.2,437.2C1577.4,440.2 1576.2,443 1575.5,445.8C1574.7,448.7 1572.8,451.4 1572.6,454.3C1572.5,457.2 1574.7,460.4 1574.6,463.3C1574.5,466.2 1572.4,470.4 1572,471.8M1578,411C1578.4,412.4 1579.5,416.7 1580.2,419.5C1581,422.3 1582.8,425.1 1582.5,428C1582.2,430.9 1578.1,434.3 1578.4,437.1C1578.7,440 1583.5,442.5 1584.4,445.3C1585.3,448.1 1584,451.1 1583.9,454.1C1583.8,457 1583.5,459.9 1583.5,462.8C1583.5,465.7 1583.9,470.1 1584,471.5M1578,411C1578.4,412.4 1579.8,416.6 1580.6,419.4C1581.4,422.2 1582.3,425 1582.5,427.9C1582.8,430.9 1581.9,434.2 1582.3,437.1C1582.8,440.1 1584.3,442.7 1585.2,445.4C1586.2,448.2 1586.5,451.1 1587.9,453.8C1589.2,456.4 1592.2,458.7 1593.3,461.4C1594.5,464.1 1594.7,468.6 1595,470M1578,411C1578.4,412.4 1579.7,416.7 1580.5,419.6C1581.2,422.5 1580.8,425.9 1582.7,428.3C1584.6,430.6 1589.6,431.5 1591.7,433.8C1593.8,436.1 1594.2,439.1 1595.2,441.9C1596.3,444.6 1597.2,447.5 1598.2,450.3C1599.1,453 1600.2,455.8 1601.2,458.6C1602.1,461.4 1603.5,465.6 1604,467M1578,411C1578.8,412.1 1580.8,415.6 1582.6,417.8C1584.3,419.9 1587.1,421.4 1588.4,423.8C1589.7,426.2 1589.1,429.6 1590.1,432.1C1591.1,434.7 1593.2,436.6 1594.3,439.1C1595.4,441.6 1596,444.3 1596.9,446.9C1597.8,449.5 1598.4,452.2 1599.8,454.6C1601.1,456.9 1604.1,459.9 1605,461M1570.7,427.2C1571.1,431.1 1572.8,443.2 1573,450.6C1573.2,458.1 1572.2,468.3 1572,471.8M1583.9,454.1C1584.8,455.1 1587.2,457.8 1589,460.4C1590.9,463.1 1594,468.4 1595,470M1583.9,454.1C1583.8,453.7 1583.1,453.1 1583.3,451.7C1583.6,450.2 1584.9,446.5 1585.2,445.4M1564.6,434.3C1564.8,434.9 1565.1,436 1565.6,437.7C1566.2,439.5 1567.5,443.6 1567.9,444.8M1536.1,420.2C1535.4,420.5 1534,421.3 1532.1,421.6C1530.1,422 1525.7,422 1524.4,422.1M1538.6,423.3C1534.5,424.2 1521.7,426.7 1513.9,428.9C1506.1,431.1 1495.6,435.2 1492,436.5M1548.6,438.2C1547.3,440.3 1542.9,447.2 1540.8,451C1538.7,454.8 1536.8,459.3 1536,461M1557.6,450.9C1557.7,452.2 1557.7,455.8 1558.1,459C1558.5,462.2 1559.7,468.2 1560,470M1585.2,445.4C1586.5,446.7 1590.5,450.6 1593.1,452.8C1595.8,455 1599.8,457.6 1601.2,458.6M1570.7,427.2C1571.2,429.5 1573.2,436.4 1573.5,440.9C1573.8,445.4 1572.8,452.1 1572.6,454.3M1553.2,417.6C1550.1,419.5 1541.3,425.7 1534.4,429C1527.5,432.3 1515.5,436 1511.8,437.4M1585.2,445.4C1586.8,446.4 1592.2,449.2 1594.8,451.4C1597.5,453.6 1600.1,457.4 1601.2,458.6M1535.2,432C1535,432.7 1534.3,435.4 1533.6,436.5C1532.9,437.6 1531.5,438.3 1531.1,438.6M1591.7,433.8C1592.4,435.1 1594.7,439.1 1595.6,441.3C1596.5,443.5 1596.7,446 1596.9,446.9" fill="none" stroke="#3fdfe0" stroke-width="0.6" stroke-linecap="round" clip-path="url(#clipDA)"/>
<path d="M1693,315.5C1692.2,317.5 1691.8,323.1 1688.5,327.7C1685.2,332.3 1679.8,338.9 1673,343C1666.2,347.1 1656,349 1647.5,352C1639,355 1628.8,357.2 1622,361C1615.2,364.8 1610.9,369.9 1606.6,375C1602.3,380.1 1599.4,387 1596.4,391.7C1593.4,396.4 1591.7,400 1588.7,403.2C1585.7,406.4 1580.1,409.6 1578.4,410.9" fill="none" stroke="#2edbe8" stroke-width="2.3" stroke-linecap="round"/>
<path d="M1590,404C1588.7,405.2 1585.3,409 1582,411C1578.7,413 1572,415.2 1570,416" fill="none" stroke="#2edbe8" stroke-width="1.3" stroke-linecap="round"/>
<use href="#plant" transform="translate(1180.4,274) scale(0.521)"/>
<use href="#plant" transform="translate(1229,290.6) scale(0.521)"/>
<use href="#plant" transform="translate(1188,302) scale(0.714)"/>
<use href="#plant" transform="translate(1304.5,302) scale(0.756)"/>
<use href="#plant" transform="translate(1255.9,317.5) scale(0.756)"/>
<use href="#plant" transform="translate(1312.7,339) scale(0.756)"/>
<use href="#plant" transform="translate(1362.8,339) scale(0.756)"/>
<use href="#plant" transform="translate(1420.8,343) scale(0.756)"/>
<use href="#plant" transform="translate(1480.2,348.8) scale(0.756)"/>
<use href="#plant" transform="translate(1386.3,362) scale(0.756)"/>
<use href="#plant" transform="translate(1433.4,377.5) scale(0.714)"/>
<use href="#plant" transform="translate(1470.5,380.2) scale(0.714)"/>
<use href="#plant" transform="translate(1531.5,360) scale(0.714)"/>
<use href="#plant" transform="translate(1505.8,377.5) scale(0.588)"/>
<use href="#plant" transform="translate(1560.8,372.3) scale(0.756)"/>
<use href="#plant" transform="translate(1599,360) scale(0.588)"/>
<use href="#plant" transform="translate(1580.6,381.7) scale(0.756)"/>
<use href="#plant" transform="translate(1628.3,362.3) scale(0.588)"/>
<use href="#plant" transform="translate(1535,391.8) scale(0.588)"/>
<use href="#plant" transform="translate(1553.2,395.5) scale(0.756)"/>
<use href="#plant" transform="translate(1623.2,384) scale(0.756)"/>
<use href="#plant" transform="translate(1512,403) scale(0.588)"/>
<use href="#plant" transform="translate(1601.8,396.7) scale(0.546)"/>
<use href="#plant" transform="translate(1614.5,409.8) scale(0.588)"/>
<use href="#plant" transform="translate(1652.6,408.3) scale(0.798)"/>
<use href="#plant" transform="translate(1593.8,420) scale(0.588)"/>
<use href="#plant" transform="translate(1638.6,433.9) scale(0.588)"/>
<use href="#plant" transform="translate(1677,433.9) scale(0.588)"/>
<use href="#plant" transform="translate(1612.4,440.3) scale(0.588)"/>
<use href="#plant" transform="translate(1656.5,441.6) scale(0.63)"/>
<use href="#plant" transform="translate(1642.4,454.4) scale(0.588)"/>
<use href="#plant" transform="translate(1671,458.2) scale(0.798)"/>
<use href="#plant" transform="translate(1697.4,453.1) scale(0.588)"/>
<use href="#plant" transform="translate(1724.3,460.8) scale(0.798)"/>
<use href="#plant" transform="translate(1697.4,476.1) scale(0.588)"/>
<use href="#plant" transform="translate(1743.5,480) scale(0.546)"/>
<use href="#plant" transform="translate(1727.2,491.7) scale(0.798)"/>
<use href="#gas" transform="translate(808.3,483.4) scale(0.8)" stroke="#8aa0a6" stroke-width="1.2"/>
<use href="#gas" transform="translate(524.2,584.9) scale(0.8)" stroke="#8aa0a6" stroke-width="1.2"/>
<use href="#gas" transform="translate(822,573.7) scale(0.8)" stroke="#8aa0a6" stroke-width="1.2"/>
<use href="#gas" transform="translate(889.9,766.4) scale(0.8)" stroke="#444" stroke-width="1.2"/>
<use href="#gas" transform="translate(1165.8,657.8) scale(0.8)" stroke="#8aa0a6" stroke-width="1.2"/>
<path d="M302.9,547.8Q302.3,553.6 307.1,556.8" fill="none" stroke="#6c8086" stroke-width="1.3" stroke-linecap="round"/>
<path d="M661.8,530.5Q661.7,535.8 666.2,538.3" fill="none" stroke="#6c8086" stroke-width="1.3" stroke-linecap="round"/>
<path d="M940,551.7Q940.9,554.4 943.8,554.9" fill="none" stroke="#6c8086" stroke-width="1.3" stroke-linecap="round"/>
<path d="M328.3,618.8Q329.6,623.9 334.7,625.2" fill="none" stroke="#6c8086" stroke-width="1.3" stroke-linecap="round"/>
<path d="M697.6,676.3Q697.5,681 701.6,683.3" fill="none" stroke="#6c8086" stroke-width="1.3" stroke-linecap="round"/>
<path d="M991.5,456.3Q987.7,457.7 987.1,461.7" fill="none" stroke="#6c8086" stroke-width="1.3" stroke-linecap="round"/>
<path d="M1024.2,553.1Q1023.3,557.7 1027,560.7" fill="none" stroke="#6c8086" stroke-width="1.3" stroke-linecap="round"/>
<path d="M1071.7,573Q1075.2,576.1 1079.5,574.4" fill="none" stroke="#6c8086" stroke-width="1.3" stroke-linecap="round"/>
<path d="M1029.7,596.2Q1027.9,599.2 1029.7,602.2" fill="none" stroke="#6c8086" stroke-width="1.3" stroke-linecap="round"/>
<path d="M1239.7,517.1Q1240.2,520 1242.9,520.9" fill="none" stroke="#6c8086" stroke-width="1.3" stroke-linecap="round"/>
<path d="M1293,642.5Q1296.9,648.3 1303.8,647.5" fill="none" stroke="#222" stroke-width="1.6" stroke-linecap="round"/>
<path d="M1025.6,728.1Q1028.6,732.4 1033.8,731.9" fill="none" stroke="#222" stroke-width="1.6" stroke-linecap="round"/>
<path d="M1211.7,387.5Q1212.6,389.6 1214.9,389.7" fill="none" stroke="#6c8086" stroke-width="1.3" stroke-linecap="round"/>
<path d="M1154.4,399.9Q1155.3,402 1157.6,402.1" fill="none" stroke="#6c8086" stroke-width="1.3" stroke-linecap="round"/>
<path d="M1243.4,442.5Q1244.3,444.6 1246.6,444.7" fill="none" stroke="#6c8086" stroke-width="1.3" stroke-linecap="round"/>
<path d="M1345.4,443.9Q1346.3,446 1348.6,446.1" fill="none" stroke="#6c8086" stroke-width="1.3" stroke-linecap="round"/>
<path d="M1482.9,510.4Q1483.8,512.5 1486.1,512.6" fill="none" stroke="#6c8086" stroke-width="1.3" stroke-linecap="round"/>
<path d="M1521.2,507.3Q1522.1,509.4 1524.4,509.5" fill="none" stroke="#6c8086" stroke-width="1.3" stroke-linecap="round"/>
<path d="M1508.3,548.7Q1509.4,550.7 1511.7,550.7" fill="none" stroke="#6c8086" stroke-width="1.3" stroke-linecap="round"/>
<path d="M1567,558.4Q1568.1,560.4 1570.4,560.4" fill="none" stroke="#6c8086" stroke-width="1.3" stroke-linecap="round"/>
<clipPath id="cAl"><rect x="0" y="0" width="1077" height="950"/></clipPath><clipPath id="cAr"><rect x="1077" y="0" width="920" height="950"/></clipPath>
<path d="M9.5,531.5C18.1,531.3 42.4,531.2 61.2,530.3C80,529.4 102,528 122.4,526.3C142.8,524.6 163.2,522.6 183.6,520.2C204,517.8 224.4,515.1 244.8,511.9C265.2,508.7 285.6,505 306,500.9C326.4,496.8 346.8,492.1 367.2,487.4C387.6,482.7 408,477.8 428.4,472.8C448.8,467.8 469.1,462.7 489.5,457.5C509.9,452.3 532.3,446.7 550.7,441.6C569.1,436.5 584.9,431.3 600,426.9C615.1,422.5 624.1,419.8 641.2,415.3C658.3,410.8 682,405.3 702.4,400C722.8,394.7 743.2,389.1 763.6,383.7C784,378.3 804.4,373 824.8,367.8C845.2,362.6 865.6,357.3 886,352.5C906.4,347.7 926.8,343.6 947.2,338.8C967.6,334 993.1,327.7 1008.4,323.5C1023.7,319.3 1027.6,317.1 1039,313.4C1050.4,309.6 1064.3,306.1 1077,301C1089.7,295.9 1102.3,289.2 1115,283C1127.7,276.8 1138.5,271.6 1153,264C1167.5,256.4 1184.8,247.3 1202,237.5C1219.2,227.7 1241.5,213.2 1256,205C1270.5,196.8 1277.5,193.2 1289,188C1300.5,182.8 1312.7,178.4 1325,174C1337.3,169.6 1351.3,165.2 1363,161.5C1374.7,157.8 1385.5,154.2 1395,152C1404.5,149.8 1415.8,148.7 1420,148C1424.2,148.5 1431.7,148.6 1445,151C1458.3,153.4 1474.8,156.5 1500,162.5C1525.2,168.5 1562.8,178.7 1596,187C1629.2,195.3 1669.1,202.4 1699,212.6C1728.9,222.8 1745.7,235.2 1775.5,248.4C1805.3,261.6 1850.6,280.7 1878,292C1905.4,303.3 1921,308.6 1940,316C1959,323.4 1983.3,333.1 1992,336.5" fill="none" stroke="#1a282d" stroke-width="2.2" stroke-linejoin="round" clip-path="url(#cAl)"/>
<path d="M9.5,531.5C18.1,531.3 42.4,531.2 61.2,530.3C80,529.4 102,528 122.4,526.3C142.8,524.6 163.2,522.6 183.6,520.2C204,517.8 224.4,515.1 244.8,511.9C265.2,508.7 285.6,505 306,500.9C326.4,496.8 346.8,492.1 367.2,487.4C387.6,482.7 408,477.8 428.4,472.8C448.8,467.8 469.1,462.7 489.5,457.5C509.9,452.3 532.3,446.7 550.7,441.6C569.1,436.5 584.9,431.3 600,426.9C615.1,422.5 624.1,419.8 641.2,415.3C658.3,410.8 682,405.3 702.4,400C722.8,394.7 743.2,389.1 763.6,383.7C784,378.3 804.4,373 824.8,367.8C845.2,362.6 865.6,357.3 886,352.5C906.4,347.7 926.8,343.6 947.2,338.8C967.6,334 993.1,327.7 1008.4,323.5C1023.7,319.3 1027.6,317.1 1039,313.4C1050.4,309.6 1064.3,306.1 1077,301C1089.7,295.9 1102.3,289.2 1115,283C1127.7,276.8 1138.5,271.6 1153,264C1167.5,256.4 1184.8,247.3 1202,237.5C1219.2,227.7 1241.5,213.2 1256,205C1270.5,196.8 1277.5,193.2 1289,188C1300.5,182.8 1312.7,178.4 1325,174C1337.3,169.6 1351.3,165.2 1363,161.5C1374.7,157.8 1385.5,154.2 1395,152C1404.5,149.8 1415.8,148.7 1420,148C1424.2,148.5 1431.7,148.6 1445,151C1458.3,153.4 1474.8,156.5 1500,162.5C1525.2,168.5 1562.8,178.7 1596,187C1629.2,195.3 1669.1,202.4 1699,212.6C1728.9,222.8 1745.7,235.2 1775.5,248.4C1805.3,261.6 1850.6,280.7 1878,292C1905.4,303.3 1921,308.6 1940,316C1959,323.4 1983.3,333.1 1992,336.5" fill="none" stroke="#000" stroke-width="2.8" stroke-linejoin="round" clip-path="url(#cAr)"/>
<path d="M1992.2,336.7C1984.3,342.8 1962.8,359.9 1944.7,373.4C1926.6,386.9 1903.9,403.8 1883.5,417.8C1863.1,431.8 1842.8,444.6 1822.4,457.6C1802,470.6 1777,486.1 1761.2,495.8C1745.4,505.5 1737.7,510.1 1727.5,515.7C1717.3,521.3 1714.8,522.4 1700,529.5C1685.2,536.6 1659.2,549.6 1638.8,558.5C1618.4,567.4 1603.1,573.5 1577.6,583C1552.1,592.5 1516.4,604.5 1485.8,615.2C1455.2,625.9 1425.1,636.4 1394,647.3C1362.9,658.2 1330.1,669 1299,680.4C1267.9,691.8 1237.8,704.1 1207.2,715.6C1176.6,727.1 1146,738.6 1115.4,749.3C1084.8,760 1054.2,770.4 1023.6,779.8C993,789.2 961.2,798.2 931.8,805.9C902.4,813.6 861.1,822.6 847,826" fill="none" stroke="#000" stroke-width="2.2" stroke-linejoin="round"/>
<path d="M847,826C835.9,822.2 805.8,812.2 780.2,803.4C754.6,794.6 722.4,783.2 693.5,773.1C664.6,763 635.8,752.8 606.9,742.7C578,732.6 549.1,722.1 520.2,712.4C491.3,702.6 462.4,693.2 433.5,684.2C404.6,675.2 375.7,667.2 346.8,658.2C317.9,649.2 288.9,640.1 260,630C231.1,619.9 202.3,609 173.4,597.5C144.5,586 114,571.7 86.7,560.7C59.4,549.7 22.4,536.4 9.5,531.5" fill="none" stroke="#000" stroke-width="1.3"/>
<path d="M9.5,531.5L11,613L843,921L1983,548L1992,336.5M847,826L843,921" fill="none" stroke="#000" stroke-width="1.4" stroke-linejoin="round"/>
<path d="M1334,206C1346.1,180.2 1362,162.9 1368.5,162.7C1375,162.5 1391.3,186.6 1412.5,212" fill="none" stroke="#000" stroke-width="2" stroke-linecap="round"/>
<path d="M1458.8,181.3C1467.5,170.3 1475.2,167.3 1481.5,169C1487.8,170.7 1504.9,195.9 1516.9,229.4" fill="none" stroke="#000" stroke-width="2" stroke-linecap="round"/>
<path d="M1586,216.4C1603.9,201.4 1620.8,196.5 1627,198.5C1633.2,200.5 1640.7,213.6 1646.8,233" fill="none" stroke="#000" stroke-width="2" stroke-linecap="round"/>
<path d="M1595.8,256C1629.9,245.1 1659.3,238.3 1665.4,240.7C1671.5,243.1 1677.1,251.6 1683.4,266.3" fill="none" stroke="#000" stroke-width="2" stroke-linecap="round"/>
<path d="M1743.5,275.3C1762,260.3 1779.6,255.2 1785.7,257.4C1791.8,259.6 1798.6,272.7 1803.6,292" fill="none" stroke="#000" stroke-width="2" stroke-linecap="round"/>
<path d="M1804.4,322.6C1817.3,311.4 1828.2,307.9 1834.3,310.3C1840.4,312.7 1854.4,337.9 1862.5,371" fill="none" stroke="#000" stroke-width="2" stroke-linecap="round"/>
<path d="M1892.4,330.8C1910.6,315.8 1927.9,310.9 1934,313C1940.1,315.1 1946.3,328.8 1952.8,347.7" fill="none" stroke="#000" stroke-width="2" stroke-linecap="round"/>
<path d="M17.8,457.4L17.8,507.4" stroke="#000" stroke-width="1.6"/>
<path d="M1060.8,245.8L1060.8,295.8" stroke="#000" stroke-width="1.6"/>
<path d="M1201.5,187L1201.5,237" stroke="#000" stroke-width="1.6"/>
<text transform="translate(34.5,117.3) scale(1.03,1)" font-size="97" fill="#111">A</text>
<text transform="translate(559.4,312) scale(0.83,1)" font-size="45.5" fill="#29d8f0" textLength="84.8" lengthAdjust="spacing">FA2</text>
<text transform="translate(462.5,353.4) scale(0.86,1)" font-size="35.5" fill="#111" textLength="311.3" lengthAdjust="spacing">supratidal-lagoon</text>
<text transform="translate(1074.6,172.6) scale(0.83,1)" font-size="45.5" fill="#29d8f0" textLength="81.1" lengthAdjust="spacing">FA1</text>
<text transform="translate(1032.2,208) scale(0.86,1)" font-size="35.5" fill="#111" textLength="183.8" lengthAdjust="spacing">braid delta</text>
<text transform="translate(1548,32) rotate(6.8) scale(0.86,1)" font-size="36" fill="#111" textLength="220.9" lengthAdjust="spacing">Precipitation</text>
<use href="#cloud" transform="translate(1740,0) scale(0.09062)"/>
<use href="#drop" transform="translate(1849.7,97.9)"/>
<use href="#drop" transform="translate(1805.6,138.6)"/>
</g>
<g id="panelB">
<clipPath id="clipB"><path d="M7,1479C53.2,1462 201.9,1407.2 284.5,1377.2C367.1,1347.2 450.1,1318.4 502.7,1299.3C555.3,1280.2 571,1273.2 600,1262.6C629,1252 651.2,1244.9 676.8,1235.7C702.4,1226.5 734.3,1214.9 753.5,1207.6C772.7,1200.3 779.2,1195.8 792,1192C804.8,1188.2 817.2,1185.3 830,1184.5C842.8,1183.7 855.9,1185.9 868.7,1187C881.5,1188.1 894.2,1190.8 907,1191C919.8,1191.2 932.6,1190.6 945.4,1188.4C958.2,1186.2 974.7,1180.9 983.8,1178C992.9,1175.1 991.5,1175.3 1000,1171C1008.5,1166.7 1023.5,1157.7 1035,1152C1046.5,1146.3 1056.5,1142.3 1069,1136.6C1081.5,1130.9 1095.9,1124.2 1110,1118C1124.1,1111.8 1134.7,1106.8 1153.5,1099.5C1172.3,1092.2 1201.3,1082 1222.6,1073.9C1243.9,1065.8 1258.9,1058.7 1281.5,1050.8C1304.1,1042.9 1339.1,1032.3 1358,1026.5C1376.9,1020.7 1386,1018.2 1395,1016C1404,1013.8 1409.2,1013.7 1412,1013.2C1416.7,1013.8 1426.3,1014.4 1440,1017C1453.7,1019.6 1468,1022.5 1494,1029C1520,1035.5 1561.9,1047 1596,1056C1630.1,1065 1673,1074.5 1698.7,1082.8C1724.4,1091.1 1724.5,1094.9 1750,1105.9C1775.5,1116.9 1823.7,1137.3 1852,1149C1880.3,1160.7 1898.2,1167.4 1920,1176C1941.8,1184.6 1972.2,1196.4 1982.7,1200.5C1978,1205.6 1967.8,1219.9 1954.6,1231C1941.4,1242.1 1920.5,1256.3 1903.4,1267C1886.3,1277.7 1869.1,1284.8 1852,1295C1834.9,1305.2 1816.3,1317.8 1801,1328.5C1785.7,1339.2 1773.1,1349.4 1760,1359C1746.9,1368.6 1734.4,1376.7 1722.6,1386C1710.8,1395.3 1700.2,1407 1689,1414.6C1677.8,1422.2 1669.3,1427 1655.3,1431.5C1641.3,1436 1621.6,1439.3 1604.8,1441.6C1588,1443.8 1571.2,1443.3 1554.4,1445C1537.6,1446.7 1517.9,1448.8 1503.9,1451.6C1489.9,1454.4 1481.4,1457.2 1470.2,1461.7C1459,1466.2 1447.8,1472.4 1436.6,1478.6C1425.4,1484.8 1417,1490.1 1403,1498.8C1389,1507.5 1369.2,1520 1352.4,1530.7C1335.6,1541.4 1320.5,1551.2 1302,1562.7C1283.5,1574.2 1292.7,1572.3 1241.4,1600C1190.1,1627.7 1059.2,1694.8 994,1729C928.8,1763.2 874,1792.3 850,1805L7,1479Z"/></clipPath>
<path d="M7,1479C53.2,1462 201.9,1407.2 284.5,1377.2C367.1,1347.2 450.1,1318.4 502.7,1299.3C555.3,1280.2 571,1273.2 600,1262.6C629,1252 651.2,1244.9 676.8,1235.7C702.4,1226.5 734.3,1214.9 753.5,1207.6C772.7,1200.3 779.2,1195.8 792,1192C804.8,1188.2 817.2,1185.3 830,1184.5C842.8,1183.7 855.9,1185.9 868.7,1187C881.5,1188.1 894.2,1190.8 907,1191C919.8,1191.2 932.6,1190.6 945.4,1188.4C958.2,1186.2 974.7,1180.9 983.8,1178C992.9,1175.1 991.5,1175.3 1000,1171C1008.5,1166.7 1023.5,1157.7 1035,1152C1046.5,1146.3 1056.5,1142.3 1069,1136.6C1081.5,1130.9 1095.9,1124.2 1110,1118C1124.1,1111.8 1134.7,1106.8 1153.5,1099.5C1172.3,1092.2 1201.3,1082 1222.6,1073.9C1243.9,1065.8 1258.9,1058.7 1281.5,1050.8C1304.1,1042.9 1339.1,1032.3 1358,1026.5C1376.9,1020.7 1386,1018.2 1395,1016C1404,1013.8 1409.2,1013.7 1412,1013.2C1416.7,1013.8 1426.3,1014.4 1440,1017C1453.7,1019.6 1468,1022.5 1494,1029C1520,1035.5 1561.9,1047 1596,1056C1630.1,1065 1673,1074.5 1698.7,1082.8C1724.4,1091.1 1724.5,1094.9 1750,1105.9C1775.5,1116.9 1823.7,1137.3 1852,1149C1880.3,1160.7 1898.2,1167.4 1920,1176C1941.8,1184.6 1972.2,1196.4 1982.7,1200.5L1981,1484L849,1907L7,1578Z" fill="#fff" stroke="none"/>
<path d="M0,1388.6L212,1351.3" stroke="#d6141a" stroke-width="2.4" fill="none"/>
<path d="M212,1351.3L502.7,1299.8" stroke="#de5f4f" stroke-width="2" fill="none"/>
<g clip-path="url(#clipB)">
<rect x="0" y="1000" width="1994" height="908" fill="url(#deepB)"/>
<path d="M1069,1136.6C1075.8,1133.5 1095.9,1124.2 1110,1118C1124.1,1111.8 1134.7,1106.8 1153.5,1099.5C1172.3,1092.2 1201.3,1082 1222.6,1073.9C1243.9,1065.8 1258.9,1058.7 1281.5,1050.8C1304.1,1042.9 1339.1,1032.3 1358,1026.5C1376.9,1020.7 1386,1018.2 1395,1016C1404,1013.8 1409.2,1013.7 1412,1013.2C1416.7,1013.8 1426.3,1014.4 1440,1017C1453.7,1019.6 1468,1022.5 1494,1029C1520,1035.5 1561.9,1047 1596,1056C1630.1,1065 1673,1074.5 1698.7,1082.8C1724.4,1091.1 1724.5,1094.9 1750,1105.9C1775.5,1116.9 1823.7,1137.3 1852,1149C1880.3,1160.7 1898.2,1167.4 1920,1176C1941.8,1184.6 1972.2,1196.4 1982.7,1200.5C1978,1205.6 1967.8,1219.9 1954.6,1231C1941.4,1242.1 1920.5,1256.3 1903.4,1267C1886.3,1277.7 1869.1,1284.8 1852,1295C1834.9,1305.2 1816.3,1317.8 1801,1328.5C1785.7,1339.2 1766.8,1353.9 1760,1359L1739.5,1370.9L1327.5,1223.6C1311.2,1219.5 1259,1207.5 1230,1199C1201,1190.5 1173.5,1179.7 1153.5,1172.4C1133.5,1165.1 1124.1,1161 1110,1155C1095.9,1149 1075.8,1139.7 1069,1136.6Z" fill="url(#hillB)"/>
<path d="M1040,1124C1044.8,1126.1 1057.3,1131.4 1069,1136.6C1080.7,1141.8 1095.9,1149 1110,1155C1124.1,1161 1133.5,1165.1 1153.5,1172.4C1173.5,1179.7 1201,1190.5 1230,1199C1259,1207.5 1295.8,1213.1 1327.5,1223.6C1359.2,1234.1 1381.2,1246.3 1420,1262C1458.8,1277.7 1516.7,1303 1560,1318C1603.3,1333 1649.2,1343 1680,1352C1710.8,1361 1726.7,1365.7 1745,1372C1763.3,1378.3 1782.5,1387 1790,1390" fill="none" stroke="#b3b2c8" stroke-width="56" opacity="0.15"/>
<path d="M1040,1124C1044.8,1126.1 1057.3,1131.4 1069,1136.6C1080.7,1141.8 1095.9,1149 1110,1155C1124.1,1161 1133.5,1165.1 1153.5,1172.4C1173.5,1179.7 1201,1190.5 1230,1199C1259,1207.5 1295.8,1213.1 1327.5,1223.6C1359.2,1234.1 1381.2,1246.3 1420,1262C1458.8,1277.7 1516.7,1303 1560,1318C1603.3,1333 1649.2,1343 1680,1352C1710.8,1361 1726.7,1365.7 1745,1372C1763.3,1378.3 1782.5,1387 1790,1390" fill="none" stroke="#b3b2c8" stroke-width="40" opacity="0.2"/>
<path d="M1040,1124C1044.8,1126.1 1057.3,1131.4 1069,1136.6C1080.7,1141.8 1095.9,1149 1110,1155C1124.1,1161 1133.5,1165.1 1153.5,1172.4C1173.5,1179.7 1201,1190.5 1230,1199C1259,1207.5 1295.8,1213.1 1327.5,1223.6C1359.2,1234.1 1381.2,1246.3 1420,1262C1458.8,1277.7 1516.7,1303 1560,1318C1603.3,1333 1649.2,1343 1680,1352C1710.8,1361 1726.7,1365.7 1745,1372C1763.3,1378.3 1782.5,1387 1790,1390" fill="none" stroke="#b3b2c8" stroke-width="24" opacity="0.25"/>
<path d="M1040,1124C1044.8,1126.1 1057.3,1131.4 1069,1136.6C1080.7,1141.8 1095.9,1149 1110,1155C1124.1,1161 1133.5,1165.1 1153.5,1172.4C1173.5,1179.7 1201,1190.5 1230,1199C1259,1207.5 1295.8,1213.1 1327.5,1223.6C1359.2,1234.1 1381.2,1246.3 1420,1262C1458.8,1277.7 1516.7,1303 1560,1318C1603.3,1333 1649.2,1343 1680,1352C1710.8,1361 1726.7,1365.7 1745,1372C1763.3,1378.3 1782.5,1387 1790,1390" fill="none" stroke="#b3b2c8" stroke-width="12" opacity="0.3"/>
<path d="M284.5,1377.2C320.9,1364.2 450.1,1318.4 502.7,1299.3C555.3,1280.2 571,1273.2 600,1262.6C629,1252 651.2,1244.9 676.8,1235.7C702.4,1226.5 734.3,1214.9 753.5,1207.6C772.7,1200.3 779.2,1195.8 792,1192C804.8,1188.2 817.2,1185.3 830,1184.5C842.8,1183.7 855.9,1185.9 868.7,1187C881.5,1188.1 894.2,1190.8 907,1191C919.8,1191.2 932.6,1190.6 945.4,1188.4C958.2,1186.2 974.7,1180.9 983.8,1178C992.9,1175.1 991.5,1175.3 1000,1171C1008.5,1166.7 1023.5,1157.7 1035,1152C1046.5,1146.3 1063.3,1139.2 1069,1136.6C1075.8,1139.7 1095.9,1149 1110,1155C1124.1,1161 1133.5,1165.1 1153.5,1172.4C1173.5,1179.7 1201,1190.5 1230,1199C1259,1207.5 1311.2,1219.5 1327.5,1223.6L1739.5,1370.9C1731.1,1373.1 1711.5,1378.7 1689,1384.3C1666.5,1389.9 1632.8,1398.3 1604.8,1404.5C1576.8,1410.7 1540.3,1416.9 1520.7,1421.4C1501.1,1425.9 1497.7,1428.4 1487,1431.5C1476.3,1434.6 1464.1,1439.4 1456.8,1439.9C1449.5,1440.5 1447.2,1432 1443.3,1434.8C1439.4,1437.6 1438.8,1456.1 1433.2,1456.7C1427.6,1457.3 1416.3,1440.2 1409.6,1438.2C1402.9,1436.2 1397.8,1440.8 1392.8,1445C1387.8,1449.2 1384.5,1460.1 1379.4,1463.4C1374.4,1466.7 1369.8,1468.1 1362.5,1465C1355.2,1461.9 1342.3,1442.8 1335.6,1445C1328.8,1447.2 1325.4,1471.8 1322,1478C1318.6,1484.2 1319.9,1484.4 1315.4,1482C1310.9,1479.6 1301.4,1462.9 1295.2,1463.4C1289,1464 1284,1483.3 1278.4,1485.3C1272.8,1487.3 1267.7,1474.9 1261.5,1475.2C1255.3,1475.5 1253.2,1482.8 1241.4,1487C1229.6,1491.2 1214.5,1494.9 1190.9,1500.5C1167.3,1506.1 1115.2,1517.2 1100,1520.6L838,1582Z" fill="url(#innerB)"/>
<path d="M907,1191C913.4,1190.6 932.6,1190.6 945.4,1188.4C958.2,1186.2 974.7,1180.9 983.8,1178C992.9,1175.1 991.5,1175.3 1000,1171C1008.5,1166.7 1023.5,1157.7 1035,1152C1046.5,1146.3 1063.3,1139.2 1069,1136.6C1117.2,1157.9 1133.5,1165.1 1153.5,1172.4C1173.5,1179.7 1201,1190.5 1230,1199C1259,1207.5 1311.2,1219.5 1327.5,1223.6C1311.2,1221.5 1254.8,1214.4 1230,1211C1205.2,1207.6 1200.3,1205.7 1179,1203C1157.7,1200.3 1120.8,1197.5 1102,1195C1083.2,1192.5 1076.8,1188.8 1066.5,1188C1056.2,1187.2 1051.1,1188 1040,1190C1028.9,1192 1013.3,1196.7 1000,1200C986.7,1203.3 973.3,1208 960,1210C946.7,1212 928.8,1215.2 920,1212C911.2,1208.8 909.2,1194.5 907,1191Z" fill="url(#fadeB)"/>
<path d="M1326,1216C1326.7,1218.1 1324.7,1221 1330,1228.7C1335.3,1236.4 1344.8,1249.6 1358,1262C1371.2,1274.4 1386.7,1289.8 1409.4,1303C1432.1,1316.2 1471.4,1331.5 1494,1341.3C1516.6,1351.1 1527.9,1356.6 1545,1361.7C1562.1,1366.8 1579.3,1370.3 1596.4,1372C1613.5,1373.7 1630.5,1373.1 1647.5,1372C1664.5,1370.9 1686.5,1368.2 1698.7,1365.6C1710.9,1363 1716.9,1358.1 1720.5,1356.6L1745,1372C1712.9,1380.1 1706.9,1385 1694.7,1387.6C1682.5,1390.2 1660.5,1392.9 1643.5,1394C1626.5,1395.1 1609.5,1395.7 1592.4,1394C1575.3,1392.3 1558.1,1388.8 1541,1383.7C1523.9,1378.6 1512.6,1373.1 1490,1363.3C1467.4,1353.5 1428.1,1338.2 1405.4,1325C1382.7,1311.8 1367.2,1296.4 1354,1284C1340.8,1271.6 1331.3,1258.4 1326,1250.7C1320.7,1243 1322.7,1240.1 1322,1238Z" fill="#b3e1f5"/>
<path d="M7,1479L284.5,1377.2L838,1582L850,1805Z" fill="url(#midB)"/>
<path d="M284.5,1377.2L838,1582" stroke="#d4ecfd" stroke-width="0.8" fill="none"/>
</g>
<path d="M1059,1185C1060.2,1183.4 1059.3,1181.5 1066.5,1182.6C1073.7,1183.7 1083.2,1188.6 1102,1191.6C1120.8,1194.6 1157.7,1197.5 1179,1200.5C1200.3,1203.5 1205.2,1205.5 1230,1209.5C1254.8,1213.5 1304.2,1214.7 1327.5,1224.8C1350.8,1234.9 1355.9,1256.6 1370,1270C1384.1,1283.4 1403.3,1296.1 1412,1305.4C1420.7,1314.7 1416,1318.3 1422,1326C1428,1333.7 1434.8,1342.6 1447.8,1351.5C1460.8,1360.4 1487.8,1371.7 1500,1379.6C1512.2,1387.5 1521,1394.8 1521,1399C1521,1403.2 1514.3,1406.5 1500,1405C1485.7,1403.5 1454.4,1396.3 1435,1390C1415.6,1383.7 1400.9,1375.5 1383.8,1366.9C1366.7,1358.4 1349.6,1346 1332.6,1338.7C1315.5,1331.5 1298.6,1328.1 1281.5,1323.4C1264.4,1318.7 1247.1,1316.9 1230,1310.5C1212.9,1304.1 1198.2,1295.7 1179,1285C1159.8,1274.3 1132,1258.1 1115,1246.6C1098,1235.1 1086.3,1225.1 1077,1216C1067.7,1206.9 1062,1197.2 1059,1192C1056,1186.8 1057.8,1186.6 1059,1185Z" fill="#eaf5f9"/>
<clipPath id="clipDB"><path d="M1660.3,1167.3C1659.7,1166.8 1660.9,1162.4 1656.9,1164.3C1652.9,1166.2 1645.8,1174 1636.4,1178.8C1627.1,1183.5 1616,1188.5 1600.8,1192.8C1585.6,1197.1 1562.8,1201.6 1545,1204.4C1527.2,1207.2 1516.6,1209.7 1494,1209.5C1471.4,1209.3 1432.1,1204.4 1409.4,1203C1386.7,1201.6 1370.8,1200.6 1358,1201C1345.2,1201.4 1337.9,1203.1 1332.6,1205.6C1327.3,1208.1 1327.1,1214.3 1326,1216C1326.7,1218.1 1324.7,1221 1330,1228.7C1335.3,1236.4 1344.8,1249.6 1358,1262C1371.2,1274.4 1386.7,1289.8 1409.4,1303C1432.1,1316.2 1471.4,1331.5 1494,1341.3C1516.6,1351.1 1527.9,1356.6 1545,1361.7C1562.1,1366.8 1579.3,1370.3 1596.4,1372C1613.5,1373.7 1630.5,1373.1 1647.5,1372C1664.5,1370.9 1686.5,1368.2 1698.7,1365.6C1710.9,1363 1716.9,1358.1 1720.5,1356.6C1719.8,1355.8 1722.4,1357.9 1716.6,1351.5C1710.8,1345.1 1696.6,1330.4 1685.9,1318C1675.2,1305.6 1662,1289.2 1652.6,1277.3C1643.2,1265.4 1635.1,1256 1629.6,1246.6C1624.1,1237.2 1621.2,1227.7 1619.4,1221C1617.6,1214.3 1617.1,1210.9 1618.5,1206.5C1619.9,1202.1 1623,1198.2 1628,1194.5C1633,1190.8 1642.4,1188 1648.6,1184.2C1654.8,1180.4 1663,1174.4 1665,1171.6C1667,1168.8 1661.1,1168 1660.3,1167.3Z"/></clipPath>
<path d="M1660.3,1167.3C1659.7,1166.8 1660.9,1162.4 1656.9,1164.3C1652.9,1166.2 1645.8,1174 1636.4,1178.8C1627.1,1183.5 1616,1188.5 1600.8,1192.8C1585.6,1197.1 1562.8,1201.6 1545,1204.4C1527.2,1207.2 1516.6,1209.7 1494,1209.5C1471.4,1209.3 1432.1,1204.4 1409.4,1203C1386.7,1201.6 1370.8,1200.6 1358,1201C1345.2,1201.4 1337.9,1203.1 1332.6,1205.6C1327.3,1208.1 1327.1,1214.3 1326,1216C1326.7,1218.1 1324.7,1221 1330,1228.7C1335.3,1236.4 1344.8,1249.6 1358,1262C1371.2,1274.4 1386.7,1289.8 1409.4,1303C1432.1,1316.2 1471.4,1331.5 1494,1341.3C1516.6,1351.1 1527.9,1356.6 1545,1361.7C1562.1,1366.8 1579.3,1370.3 1596.4,1372C1613.5,1373.7 1630.5,1373.1 1647.5,1372C1664.5,1370.9 1686.5,1368.2 1698.7,1365.6C1710.9,1363 1716.9,1358.1 1720.5,1356.6C1719.8,1355.8 1722.4,1357.9 1716.6,1351.5C1710.8,1345.1 1696.6,1330.4 1685.9,1318C1675.2,1305.6 1662,1289.2 1652.6,1277.3C1643.2,1265.4 1635.1,1256 1629.6,1246.6C1624.1,1237.2 1621.2,1227.7 1619.4,1221C1617.6,1214.3 1617.1,1210.9 1618.5,1206.5C1619.9,1202.1 1623,1198.2 1628,1194.5C1633,1190.8 1642.4,1188 1648.6,1184.2C1654.8,1180.4 1663,1174.4 1665,1171.6C1667,1168.8 1661.1,1168 1660.3,1167.3Z" fill="#faf986"/>
<path d="M1300,1216C1319.7,1222.6 1313.6,1220.5 1328.1,1225.4C1342.6,1230.3 1380.9,1244.5 1405.2,1251.6C1429.5,1258.7 1457.6,1261.7 1474.1,1268.1C1490.6,1274.5 1490.6,1284.1 1504.4,1290.1C1518.2,1296.1 1539.7,1301.4 1556.7,1303.9C1573.7,1306.4 1589.2,1302.1 1606.2,1305.3C1623.2,1308.5 1639.8,1314.7 1658.6,1323.2C1677.4,1331.7 1705.5,1349.4 1719.1,1356.2C1732.7,1363 1736.5,1362.7 1740,1364L1740,1364L1740,1400L1300,1400Z" fill="#e2fabc" clip-path="url(#clipDB)"/>
<path d="M1604,1206C1597.6,1206.6 1578.6,1210 1565.6,1209.3C1552.6,1208.7 1538.8,1200.3 1526,1202.1C1513.3,1203.9 1501.8,1216.7 1489.3,1220.1C1476.7,1223.6 1463.7,1222.1 1450.8,1222.9C1438,1223.6 1424.9,1222.5 1412.3,1224.9C1399.6,1227.2 1387.6,1235 1374.9,1236.8C1362.1,1238.7 1342.5,1236.1 1336,1236M1604,1206C1598.1,1206.8 1579.8,1205.9 1568.9,1210.6C1558,1215.3 1549.6,1229.6 1538.8,1234.4C1527.9,1239.1 1514.9,1235.6 1503.7,1239C1492.5,1242.4 1483.5,1254.3 1471.5,1254.8C1459.5,1255.3 1443.9,1241.9 1431.9,1242.2C1419.8,1242.4 1410.2,1252 1399.3,1256.3C1388.3,1260.6 1371.5,1266.1 1366,1268M1604,1206C1599,1207.4 1583.2,1210.4 1573.7,1214.5C1564.3,1218.6 1556.4,1225.6 1547.5,1230.7C1538.5,1235.8 1528.2,1238.2 1520.1,1244.9C1512.1,1251.7 1507,1264.2 1499,1271.2C1491,1278.1 1482.1,1283.3 1472.2,1286.4C1462.2,1289.5 1449.3,1286.7 1439.3,1289.7C1429.2,1292.6 1416.5,1301.6 1412,1304M1604,1206C1601.1,1209.3 1592.2,1218.9 1586.9,1226C1581.6,1233.2 1579,1243.2 1572.4,1248.9C1565.8,1254.6 1554.5,1255.3 1547.2,1260.3C1539.9,1265.2 1535.8,1273.6 1528.5,1278.6C1521.2,1283.5 1510,1284.3 1503.4,1290.1C1496.8,1295.8 1494.6,1306.2 1489,1313C1483.4,1319.8 1473.2,1328 1470,1331M1604,1206C1602,1209.4 1595.3,1219.5 1591.9,1226.7C1588.5,1233.9 1586.1,1241.6 1583.6,1249.2C1581.1,1256.9 1582.5,1266.4 1577.1,1272.6C1571.6,1278.8 1556.8,1280.4 1551,1286.4C1545.3,1292.5 1544.9,1301.2 1542.6,1308.9C1540.3,1316.7 1539.4,1325.1 1537.3,1333C1535.2,1340.8 1531.2,1352.2 1530,1356M1604,1206C1604.1,1210 1604.8,1221.9 1604.9,1229.8C1604.9,1237.7 1603.5,1245.5 1604,1253.5C1604.6,1261.4 1610.6,1269.9 1608.2,1277.6C1605.8,1285.3 1591.7,1292 1589.7,1299.8C1587.6,1307.5 1596.1,1316.1 1595.9,1324C1595.7,1331.9 1589.3,1339.3 1588.3,1347.1C1587.4,1354.9 1589.7,1367 1590,1371M1604,1206C1604.5,1210.1 1603.1,1223.2 1606.9,1230.7C1610.7,1238.1 1622.7,1243.3 1626.6,1250.7C1630.6,1258 1631.6,1266.3 1630.6,1275C1629.6,1283.8 1619.4,1295.1 1620.6,1303.3C1621.7,1311.4 1634.5,1316.4 1637.4,1324.1C1640.4,1331.7 1636.3,1341.4 1638.4,1349.3C1640.5,1357.2 1648.1,1367.8 1650,1371.5M1604,1206C1606.1,1209.8 1612.9,1221.1 1616.7,1229.1C1620.6,1237 1621.3,1246.9 1627.1,1253.7C1632.8,1260.4 1644.1,1263.7 1651.1,1269.7C1658.1,1275.6 1664.8,1281.8 1669.1,1289.4C1673.4,1297.1 1674.6,1306.7 1677,1315.6C1679.4,1324.4 1679.3,1334.8 1683.4,1342.6C1687.6,1350.3 1698.9,1358.8 1702,1362M1604,1206C1606.6,1208.8 1614.2,1217.4 1619.8,1222.7C1625.4,1228.1 1631.8,1232.8 1637.3,1238.1C1642.9,1243.5 1650.6,1247.2 1653.3,1254.8C1655.9,1262.3 1649.4,1276.7 1653.4,1283.3C1657.4,1289.8 1671.9,1288.4 1677.3,1293.8C1682.7,1299.3 1682,1309.4 1685.8,1316.1C1689.6,1322.8 1697.6,1331 1700,1334M1604,1206C1606.3,1209.8 1611.5,1222.5 1617.8,1228.8C1624.2,1235 1637,1236.4 1642.2,1243.6C1647.4,1250.7 1643.3,1264.9 1649,1271.7C1654.6,1278.5 1670,1278 1676,1284.5C1682.1,1291 1680.9,1303 1685.3,1310.7C1689.8,1318.4 1697.6,1323.6 1702.7,1330.8C1707.8,1338 1713.8,1350.1 1716,1354M1583.6,1249.2C1584.4,1255.8 1586.4,1276.1 1588.5,1288.6C1590.5,1301.1 1594.7,1318.1 1595.9,1324M1538.8,1234.4C1533,1238.5 1515.4,1250.7 1504.3,1259.4C1493.2,1268.1 1477.5,1281.9 1472.2,1286.4M1589.7,1299.8C1594.4,1305.5 1608.1,1322 1618.1,1334C1628.2,1345.9 1644.7,1365.2 1650,1371.5M1572.4,1248.9C1569.4,1255.9 1560.2,1276.7 1554.3,1290.7C1548.5,1304.7 1540.2,1325.9 1537.3,1333M1651.1,1269.7C1655,1274.8 1666.1,1289.7 1674.3,1300.4C1682.4,1311.2 1695.7,1328.4 1700,1334M1547.2,1260.3C1546.6,1264.4 1544.3,1277 1543.5,1285.1C1542.8,1293.2 1542.7,1305 1542.6,1308.9M1653.3,1254.8C1658.8,1263.1 1675.7,1288.3 1686.2,1304.8C1696.6,1321.3 1711,1345.8 1716,1354M1626.6,1250.7C1629.9,1253.9 1639.2,1263.6 1646.3,1270.1C1653.4,1276.5 1665.3,1286.2 1669.1,1289.4M1577.1,1272.6C1578,1281.1 1580.4,1306.7 1582.6,1323.1C1584.7,1339.5 1588.8,1363 1590,1371M1669.1,1289.4C1670.1,1290.1 1673.6,1292.8 1675,1293.5C1676.3,1294.3 1676.9,1293.8 1677.3,1293.8M1520.1,1244.9C1516,1252.3 1503.7,1275 1495.3,1289.4C1486.9,1303.7 1474.2,1324.1 1470,1331M1471.5,1254.8C1471.8,1257.3 1473.4,1264.2 1473.5,1269.4C1473.6,1274.7 1472.4,1283.6 1472.2,1286.4" fill="none" stroke="#3fdfe0" stroke-width="0.8" stroke-linecap="round" clip-path="url(#clipDB)"/>
<path d="M1662,1168C1658.3,1170.7 1647.3,1179.3 1640,1184C1632.7,1188.7 1624.7,1191.8 1618,1196C1611.3,1200.2 1603,1206.8 1600,1209M1658,1166C1654,1168.8 1642,1178.3 1634,1183C1626,1187.7 1614,1192.2 1610,1194" fill="none" stroke="#2edbe8" stroke-width="1.6" stroke-linecap="round"/>
<path d="M1662,1168C1663,1166.7 1666.2,1162.2 1668,1160C1669.8,1157.8 1671.3,1158 1673,1154.5C1674.7,1151 1676.5,1143.8 1678,1139C1679.5,1134.2 1681.5,1129.6 1682,1126C1682.5,1122.4 1681.2,1118.8 1681,1117.4M1664,1168C1665.5,1165.8 1669.8,1157.6 1673,1154.5C1676.2,1151.4 1677,1152 1683.4,1149.4C1689.8,1146.8 1700.6,1142.8 1711.5,1139C1722.4,1135.2 1742.4,1128.8 1748.6,1126.8" fill="none" stroke="#2edbe8" stroke-width="2" stroke-linecap="round"/>
<use href="#plant" transform="translate(1146.4,1121.7) scale(0.521)"/>
<use href="#plant" transform="translate(1186.8,1121.7) scale(0.521)"/>
<use href="#plant" transform="translate(1222.6,1117.4) scale(0.521)"/>
<use href="#plant" transform="translate(1204,1149.4) scale(0.521)"/>
<use href="#plant" transform="translate(1243,1144.2) scale(0.521)"/>
<use href="#plant" transform="translate(1235,1158.3) scale(0.588)"/>
<use href="#plant" transform="translate(1267.4,1154) scale(0.588)"/>
<use href="#plant" transform="translate(1290.4,1155.8) scale(0.798)"/>
<use href="#plant" transform="translate(1313.5,1163) scale(0.588)"/>
<use href="#plant" transform="translate(1346,1158.3) scale(0.521)"/>
<use href="#plant" transform="translate(1403.8,1163) scale(0.588)"/>
<use href="#plant" transform="translate(1278,1178.3) scale(0.521)"/>
<use href="#plant" transform="translate(1325.7,1184.7) scale(0.521)"/>
<use href="#plant" transform="translate(1378.7,1181.3) scale(0.546)"/>
<use href="#plant" transform="translate(1445.2,1177) scale(0.546)"/>
<use href="#plant" transform="translate(1476.5,1168.5) scale(0.798)"/>
<use href="#plant" transform="translate(1427.8,1193.4) scale(0.521)"/>
<use href="#plant" transform="translate(1488.2,1191.6) scale(0.521)"/>
<use href="#plant" transform="translate(1537,1191.6) scale(0.521)"/>
<use href="#plant" transform="translate(1563.6,1181.3) scale(0.546)"/>
<use href="#plant" transform="translate(1614.8,1175) scale(0.546)"/>
<use href="#plant" transform="translate(1673.9,1179.5) scale(0.546)"/>
<use href="#plant" transform="translate(1654,1199) scale(0.588)"/>
<use href="#plant" transform="translate(1642.4,1212) scale(0.798)"/>
<use href="#plant" transform="translate(1659,1235) scale(0.546)"/>
<use href="#plant" transform="translate(1680.3,1241.5) scale(0.798)"/>
<use href="#plant" transform="translate(1689,1271) scale(0.546)"/>
<use href="#plant" transform="translate(1710.2,1276) scale(0.546)"/>
<use href="#plant" transform="translate(1735,1275.2) scale(0.546)"/>
<use href="#plant" transform="translate(1710.2,1299) scale(0.546)"/>
<use href="#plant" transform="translate(1747.8,1294) scale(0.588)"/>
<use href="#plant" transform="translate(1777.5,1293) scale(0.798)"/>
<use href="#plant" transform="translate(1752.4,1311.8) scale(0.588)"/>
<use href="#plant" transform="translate(1796.7,1312.6) scale(0.546)"/>
<use href="#plant" transform="translate(1729.9,1334) scale(0.546)"/>
<use href="#plant" transform="translate(1765.2,1334) scale(0.546)"/>
<path d="M953.2,1561.9l1.6,2.6l1.4,-1.8" fill="none" stroke="#111" stroke-width="1" stroke-linecap="round"/>
<path d="M1056.4,1551.2l1.6,2.6l1.4,-1.8" fill="none" stroke="#111" stroke-width="1" stroke-linecap="round"/>
<path d="M1040.5,1584.7l1.6,2.6l1.4,-1.8" fill="none" stroke="#111" stroke-width="1" stroke-linecap="round"/>
<path d="M1093.1,1606.3l1.6,2.6l1.4,-1.8" fill="none" stroke="#111" stroke-width="1" stroke-linecap="round"/>
<path d="M1127.7,1587.3l1.6,2.6l1.4,-1.8" fill="none" stroke="#111" stroke-width="1" stroke-linecap="round"/>
<path d="M1131.6,1627.6l1.6,2.6l1.4,-1.8" fill="none" stroke="#111" stroke-width="1" stroke-linecap="round"/>
<path d="M1178.7,1595.9l1.6,2.6l1.4,-1.8" fill="none" stroke="#111" stroke-width="1" stroke-linecap="round"/>
<path d="M1180.6,1575.7l1.6,2.6l1.4,-1.8" fill="none" stroke="#111" stroke-width="1" stroke-linecap="round"/>
<path d="M998.2,1549.7l1.6,2.6l1.4,-1.8" fill="none" stroke="#111" stroke-width="1" stroke-linecap="round"/>
<path d="M1068,1528.6l1.6,2.6l1.4,-1.8" fill="none" stroke="#111" stroke-width="1" stroke-linecap="round"/>
<path d="M921.8,1204Q928.8,1205.8 934.1,1210.6" fill="none" stroke="#6f8a95" stroke-width="0.8" stroke-linecap="round"/>
<path d="M671.2,1309Q678,1307.7 680.3,1301.2" fill="none" stroke="#6f8a95" stroke-width="0.8" stroke-linecap="round"/>
<path d="M744.4,1291.2Q746.7,1292.3 748.5,1294.2" fill="none" stroke="#6f8a95" stroke-width="0.8" stroke-linecap="round"/>
<path d="M1178.9,1461.9Q1186,1462.6 1188.3,1469.3" fill="none" stroke="#6f8a95" stroke-width="0.8" stroke-linecap="round"/>
<path d="M1140.8,1471.6Q1144.6,1468.1 1146.4,1463.3" fill="none" stroke="#6f8a95" stroke-width="0.8" stroke-linecap="round"/>
<path d="M1375.8,1498.9Q1378.5,1502.7 1382.8,1504.4" fill="none" stroke="#111" stroke-width="0.9" stroke-linecap="round"/>
<path d="M1383.4,1500.8Q1386.2,1497.8 1390.2,1499.1" fill="none" stroke="#111" stroke-width="0.9" stroke-linecap="round"/>
<path d="M1216.6,1427.8Q1219.5,1431 1219.2,1435.4" fill="none" stroke="#6f8a95" stroke-width="0.8" stroke-linecap="round"/>
<path d="M1261.9,1437Q1265.1,1434.4 1267.1,1430.9" fill="none" stroke="#6f8a95" stroke-width="0.8" stroke-linecap="round"/>
<path d="M1188.5,1532Q1190.8,1533 1192.4,1535" fill="none" stroke="#111" stroke-width="0.9" stroke-linecap="round"/>
<path d="M757,1403.9Q758,1410.6 764,1413.6" fill="none" stroke="#6f8a95" stroke-width="0.8" stroke-linecap="round"/>
<path d="M1236.4,1456.8Q1237.4,1458.5 1238.3,1460.3" fill="none" stroke="#6f8a95" stroke-width="0.8" stroke-linecap="round"/>
<path d="M1310.4,1435.6Q1312,1440.3 1314,1444.9" fill="none" stroke="#6f8a95" stroke-width="0.8" stroke-linecap="round"/>
<path d="M883.6,1448.9Q889.4,1451.5 895.6,1450.2" fill="none" stroke="#6f8a95" stroke-width="0.8" stroke-linecap="round"/>
<path d="M794.9,1364.1Q794.4,1371.7 799.3,1377.4" fill="none" stroke="#6f8a95" stroke-width="0.8" stroke-linecap="round"/>
<path d="M770.5,1251.7Q776.7,1250 782.5,1252.7" fill="none" stroke="#6f8a95" stroke-width="0.8" stroke-linecap="round"/>
<path d="M937.1,1426.9Q944.4,1430.2 945.6,1438" fill="none" stroke="#6f8a95" stroke-width="0.8" stroke-linecap="round"/>
<path d="M1035.2,1412.2Q1036.5,1410 1038,1408" fill="none" stroke="#6f8a95" stroke-width="0.8" stroke-linecap="round"/>
<path d="M962.3,1316.3Q964.2,1315.2 966.3,1316.1" fill="none" stroke="#6f8a95" stroke-width="0.8" stroke-linecap="round"/>
<path d="M765.8,1382Q771.1,1381.5 774.8,1377.5" fill="none" stroke="#6f8a95" stroke-width="0.8" stroke-linecap="round"/>
<path d="M1200.6,1441Q1204.3,1436.9 1209.7,1436.9" fill="none" stroke="#6f8a95" stroke-width="0.8" stroke-linecap="round"/>
<path d="M864.2,1346.5Q866.7,1346.6 869.1,1345.9" fill="none" stroke="#6f8a95" stroke-width="0.8" stroke-linecap="round"/>
<path d="M775,1252Q772.9,1260.1 779.5,1265.3" fill="none" stroke="#6f8a95" stroke-width="0.8" stroke-linecap="round"/>
<path d="M886.3,1405.4Q890.3,1405.4 894.2,1404.6" fill="none" stroke="#6f8a95" stroke-width="0.8" stroke-linecap="round"/>
<path d="M1171,1531.4Q1172,1532.6 1172.7,1533.9" fill="none" stroke="#111" stroke-width="0.9" stroke-linecap="round"/>
<path d="M1087.2,1455.3Q1093,1454.7 1096.2,1459.7" fill="none" stroke="#6f8a95" stroke-width="0.8" stroke-linecap="round"/>
<path d="M890.6,1472.9Q894.5,1470.9 898.6,1472.4" fill="none" stroke="#6f8a95" stroke-width="0.8" stroke-linecap="round"/>
<path d="M991.1,1462.5Q996.8,1464.5 1002,1467.6" fill="none" stroke="#6f8a95" stroke-width="0.8" stroke-linecap="round"/>
<path d="M1162.8,1443.5Q1167.9,1442.5 1171.9,1439.3" fill="none" stroke="#6f8a95" stroke-width="0.8" stroke-linecap="round"/>
<path d="M1285.6,1430.8Q1290.2,1434.7 1295.4,1437.6" fill="none" stroke="#6f8a95" stroke-width="0.8" stroke-linecap="round"/>
<path d="M1193,1426.8Q1198.5,1430.8 1204.9,1428.4" fill="none" stroke="#6f8a95" stroke-width="0.8" stroke-linecap="round"/>
<path d="M1107.7,1472.4Q1109.6,1470.7 1111.3,1468.9" fill="none" stroke="#6f8a95" stroke-width="0.8" stroke-linecap="round"/>
<path d="M823.7,1288.6Q828,1285.1 833.5,1286.3" fill="none" stroke="#6f8a95" stroke-width="0.8" stroke-linecap="round"/>
<path d="M933,1467.9Q934.7,1469.1 936.6,1469.7" fill="none" stroke="#6f8a95" stroke-width="0.8" stroke-linecap="round"/>
<path d="M1256.2,1406.9Q1258.2,1407.7 1260.2,1406.7" fill="none" stroke="#6f8a95" stroke-width="0.8" stroke-linecap="round"/>
<path d="M1068.4,1356Q1067.7,1363.4 1071.5,1369.7" fill="none" stroke="#6f8a95" stroke-width="0.8" stroke-linecap="round"/>
<path d="M1159.4,1421.9Q1161,1420.5 1163.1,1420.3" fill="none" stroke="#6f8a95" stroke-width="0.8" stroke-linecap="round"/>
<path d="M817.9,1387.3Q817.8,1389.7 819.8,1390.8" fill="none" stroke="#6f8a95" stroke-width="0.8" stroke-linecap="round"/>
<path d="M1337.2,1401.9Q1343.2,1402.5 1349.2,1402.6" fill="none" stroke="#6f8a95" stroke-width="0.8" stroke-linecap="round"/>
<path d="M850.7,1427.7Q852.1,1423.4 856.4,1422" fill="none" stroke="#6f8a95" stroke-width="0.8" stroke-linecap="round"/>
<path d="M860.5,1371.5Q863.4,1370.7 866.1,1369.5" fill="none" stroke="#6f8a95" stroke-width="0.8" stroke-linecap="round"/>
<path d="M1273.4,1558.8Q1273.8,1560.3 1274.4,1561.7" fill="none" stroke="#111" stroke-width="0.9" stroke-linecap="round"/>
<path d="M1079.3,1384.6Q1080.8,1386.2 1080.6,1388.4" fill="none" stroke="#6f8a95" stroke-width="0.8" stroke-linecap="round"/>
<path d="M985.4,1393Q988.6,1393.1 991.1,1395" fill="none" stroke="#6f8a95" stroke-width="0.8" stroke-linecap="round"/>
<path d="M1245.5,1556.6Q1246.7,1557.8 1248.4,1557.4" fill="none" stroke="#111" stroke-width="0.9" stroke-linecap="round"/>
<path d="M804.1,1323Q806.6,1322.6 809.1,1322.4" fill="none" stroke="#6f8a95" stroke-width="0.8" stroke-linecap="round"/>
<path d="M899.2,1396.6Q901.4,1398.7 900.4,1401.5" fill="none" stroke="#6f8a95" stroke-width="0.8" stroke-linecap="round"/>
<path d="M904.2,1458.2Q911.4,1460.1 918.1,1456.7" fill="none" stroke="#6f8a95" stroke-width="0.8" stroke-linecap="round"/>
<path d="M1250,1519.8Q1252,1518.2 1253.3,1516" fill="none" stroke="#111" stroke-width="0.9" stroke-linecap="round"/>
<path d="M1137.9,1363.3Q1141.8,1368 1143.5,1373.9" fill="none" stroke="#6f8a95" stroke-width="0.8" stroke-linecap="round"/>
<path d="M936.8,1397.9Q938.1,1400.7 939.5,1403.3" fill="none" stroke="#6f8a95" stroke-width="0.8" stroke-linecap="round"/>
<path d="M942.8,1349.9Q944.2,1345.8 948.1,1343.9" fill="none" stroke="#6f8a95" stroke-width="0.8" stroke-linecap="round"/>
<path d="M1114.3,1525Q1117.1,1520.6 1122.2,1520.7" fill="none" stroke="#111" stroke-width="0.9" stroke-linecap="round"/>
<path d="M982.3,1292.6Q984.2,1297.3 984.8,1302.3" fill="none" stroke="#6f8a95" stroke-width="0.8" stroke-linecap="round"/>
<path d="M1302.9,1504Q1305.2,1505.9 1304.5,1508.7" fill="none" stroke="#111" stroke-width="0.9" stroke-linecap="round"/>
<path d="M1049.8,1375.1Q1053.1,1373.9 1053.8,1370.6" fill="none" stroke="#6f8a95" stroke-width="0.8" stroke-linecap="round"/>
<path d="M970.2,1389.3Q971.3,1386 974.7,1385.3" fill="none" stroke="#6f8a95" stroke-width="0.8" stroke-linecap="round"/>
<path d="M1096.7,1485.1Q1101.2,1479.3 1108,1476.7" fill="none" stroke="#6f8a95" stroke-width="0.8" stroke-linecap="round"/>
<path d="M1116.2,1441.7Q1118.9,1442.8 1119.1,1445.7" fill="none" stroke="#6f8a95" stroke-width="0.8" stroke-linecap="round"/>
<path d="M957.9,1392.9Q964.7,1396.2 971.9,1394" fill="none" stroke="#6f8a95" stroke-width="0.8" stroke-linecap="round"/>
<path d="M821.8,1292.5Q823.2,1294 824.8,1295.2" fill="none" stroke="#6f8a95" stroke-width="0.8" stroke-linecap="round"/>
<path d="M938.1,1313.5Q939.1,1319.2 944.4,1321.2" fill="none" stroke="#6f8a95" stroke-width="0.8" stroke-linecap="round"/>
<path d="M1139.9,1482.5Q1141.3,1474.9 1148,1471.1" fill="none" stroke="#6f8a95" stroke-width="0.8" stroke-linecap="round"/>
<path d="M1274.2,1494.8Q1275.8,1495 1276.8,1496.3" fill="none" stroke="#111" stroke-width="0.9" stroke-linecap="round"/>
<path d="M856.5,1376.7Q863.8,1376.5 869.6,1371.9" fill="none" stroke="#6f8a95" stroke-width="0.8" stroke-linecap="round"/>
<path d="M886.3,1393.5Q890.5,1394.5 892.6,1398.3" fill="none" stroke="#6f8a95" stroke-width="0.8" stroke-linecap="round"/>
<path d="M859.3,1274.6Q863.6,1274.5 866.6,1271.4" fill="none" stroke="#6f8a95" stroke-width="0.8" stroke-linecap="round"/>
<path d="M1004.8,1337.6Q1008.4,1339.7 1012.5,1339.6" fill="none" stroke="#6f8a95" stroke-width="0.8" stroke-linecap="round"/>
<path d="M979.5,1409.4Q980.1,1412.5 982.4,1414.7" fill="none" stroke="#6f8a95" stroke-width="0.8" stroke-linecap="round"/>
<path d="M897.9,1388.2Q900.6,1387.9 902.8,1389.3" fill="none" stroke="#6f8a95" stroke-width="0.8" stroke-linecap="round"/>
<path d="M1255.7,1577Q1257.6,1577.6 1259.5,1578.1" fill="none" stroke="#111" stroke-width="0.9" stroke-linecap="round"/>
<path d="M1066.6,1402.9Q1068.5,1402.3 1070.4,1401.6" fill="none" stroke="#6f8a95" stroke-width="0.8" stroke-linecap="round"/>
<path d="M1027.9,1451.3Q1030.4,1451.7 1032.7,1452.9" fill="none" stroke="#6f8a95" stroke-width="0.8" stroke-linecap="round"/>
<path d="M1217.7,1482.3Q1219.4,1480.9 1221.6,1481.1" fill="none" stroke="#6f8a95" stroke-width="0.8" stroke-linecap="round"/>
<path d="M1230.1,1546.6Q1230.7,1548 1231.3,1549.3" fill="none" stroke="#111" stroke-width="0.9" stroke-linecap="round"/>
<path d="M1274.9,1406.5Q1278.2,1405.8 1280.6,1408.2" fill="none" stroke="#6f8a95" stroke-width="0.8" stroke-linecap="round"/>
<path d="M976.2,1354.8Q982.3,1357.4 988.2,1354.3" fill="none" stroke="#6f8a95" stroke-width="0.8" stroke-linecap="round"/>
<path d="M1004,1327.2Q1006.3,1332.9 1010.7,1337.2" fill="none" stroke="#6f8a95" stroke-width="0.8" stroke-linecap="round"/>
<path d="M1188.5,1474.2Q1195.3,1475.8 1202.1,1477.5" fill="none" stroke="#6f8a95" stroke-width="0.8" stroke-linecap="round"/>
<path d="M796.9,1528.1Q803.9,1527.4 806.4,1520.8" fill="none" stroke="#6f8a95" stroke-width="0.8" stroke-linecap="round"/>
<path d="M978.8,1397.6Q984,1399 986.8,1403.6" fill="none" stroke="#6f8a95" stroke-width="0.8" stroke-linecap="round"/>
<path d="M883.4,1397.5Q890.9,1398.1 895.9,1403.8" fill="none" stroke="#6f8a95" stroke-width="0.8" stroke-linecap="round"/>
<path d="M764.9,1284.2Q771.5,1289.3 778.9,1285.4" fill="none" stroke="#6f8a95" stroke-width="0.8" stroke-linecap="round"/>
<path d="M1060.4,1310.5Q1062.5,1312.8 1063.2,1315.8" fill="none" stroke="#6f8a95" stroke-width="0.8" stroke-linecap="round"/>
<path d="M859.7,1245.1Q860.2,1248.1 861,1251" fill="none" stroke="#6f8a95" stroke-width="0.8" stroke-linecap="round"/>
<path d="M883.5,1298.3Q886.8,1300.7 889.8,1303.3" fill="none" stroke="#6f8a95" stroke-width="0.8" stroke-linecap="round"/>
<path d="M941.9,1464.6Q944.5,1465.4 946.8,1463.8" fill="none" stroke="#6f8a95" stroke-width="0.8" stroke-linecap="round"/>
<path d="M1382.6,1416.6Q1387.8,1422.9 1395.7,1421.6" fill="none" stroke="#6f8a95" stroke-width="0.8" stroke-linecap="round"/>
<path d="M1215.1,1423.3Q1220.3,1418.2 1222.3,1411.2" fill="none" stroke="#6f8a95" stroke-width="0.8" stroke-linecap="round"/>
<path d="M927,1418.6Q929.4,1420.5 930.7,1423.3" fill="none" stroke="#6f8a95" stroke-width="0.8" stroke-linecap="round"/>
<path d="M1062.2,1434.4Q1065.1,1433.4 1067.1,1431" fill="none" stroke="#6f8a95" stroke-width="0.8" stroke-linecap="round"/>
<path d="M1181.9,1364.5Q1184.4,1366.1 1187.2,1367.2" fill="none" stroke="#6f8a95" stroke-width="0.8" stroke-linecap="round"/>
<path d="M1169.2,1475.2Q1171.5,1475.6 1173,1473.9" fill="none" stroke="#6f8a95" stroke-width="0.8" stroke-linecap="round"/>
<path d="M1084.8,1281Q1088.6,1286.9 1090.9,1293.6" fill="none" stroke="#6f8a95" stroke-width="0.8" stroke-linecap="round"/>
<path d="M779,1235Q780.8,1234.1 782.8,1233.7" fill="none" stroke="#6f8a95" stroke-width="0.8" stroke-linecap="round"/>
<path d="M1050.4,1494.9Q1057.5,1494.9 1064.4,1496.1" fill="none" stroke="#6f8a95" stroke-width="0.8" stroke-linecap="round"/>
<path d="M1266.3,1481.6Q1268.6,1478.6 1272.5,1478.3" fill="none" stroke="#111" stroke-width="0.9" stroke-linecap="round"/>
<path d="M706.4,1376.4Q714,1376 719,1370.2" fill="none" stroke="#6f8a95" stroke-width="0.8" stroke-linecap="round"/>
<path d="M1179.2,1475.8Q1182.6,1479.5 1185.8,1483.3" fill="none" stroke="#6f8a95" stroke-width="0.8" stroke-linecap="round"/>
<path d="M1091.3,1453.6Q1096.8,1458.4 1098.7,1465.4" fill="none" stroke="#6f8a95" stroke-width="0.8" stroke-linecap="round"/>
<path d="M1287,1405.5Q1289.4,1412.2 1294.4,1417.3" fill="none" stroke="#6f8a95" stroke-width="0.8" stroke-linecap="round"/>
<path d="M910,1385.5Q911.5,1387.2 911.1,1389.4" fill="none" stroke="#6f8a95" stroke-width="0.8" stroke-linecap="round"/>
<path d="M908.3,1397.8Q910,1396.3 912.2,1396.7" fill="none" stroke="#6f8a95" stroke-width="0.8" stroke-linecap="round"/>
<path d="M1352.9,1523.7Q1354.1,1524.6 1355.7,1524.7" fill="none" stroke="#111" stroke-width="0.9" stroke-linecap="round"/>
<path d="M1111.8,1485.5Q1114.9,1485.1 1117.3,1483" fill="none" stroke="#6f8a95" stroke-width="0.8" stroke-linecap="round"/>
<path d="M720.4,1415.4Q723,1415.1 725.3,1416.4" fill="none" stroke="#6f8a95" stroke-width="0.8" stroke-linecap="round"/>
<path d="M1253.1,1550.5Q1253.8,1552.3 1254.2,1554.3" fill="none" stroke="#111" stroke-width="0.9" stroke-linecap="round"/>
<path d="M1240.8,1333Q1243.6,1333.8 1245.7,1331.8" fill="none" stroke="#6f8a95" stroke-width="0.8" stroke-linecap="round"/>
<path d="M934.8,1368.3Q937.4,1366.2 940.6,1366.7" fill="none" stroke="#6f8a95" stroke-width="0.8" stroke-linecap="round"/>
<path d="M998.9,1367.8Q999.2,1371.9 1001.3,1375.4" fill="none" stroke="#6f8a95" stroke-width="0.8" stroke-linecap="round"/>
<path d="M1263.4,1352.3Q1265.5,1352.1 1267.2,1353.6" fill="none" stroke="#6f8a95" stroke-width="0.8" stroke-linecap="round"/>
<path d="M1169.8,1613.5Q1170,1615 1170.8,1616.3" fill="none" stroke="#111" stroke-width="0.9" stroke-linecap="round"/>
<path d="M902.7,1496.8Q908.4,1498.7 913.9,1501" fill="none" stroke="#6f8a95" stroke-width="0.8" stroke-linecap="round"/>
<path d="M1072.1,1375.9Q1075.1,1379.3 1079.5,1378.9" fill="none" stroke="#6f8a95" stroke-width="0.8" stroke-linecap="round"/>
<path d="M944.9,1483.3Q949.1,1486.2 952.7,1489.6" fill="none" stroke="#6f8a95" stroke-width="0.8" stroke-linecap="round"/>
<path d="M1053.8,1390.9Q1058.1,1391.9 1061.6,1389.2" fill="none" stroke="#6f8a95" stroke-width="0.8" stroke-linecap="round"/>
<path d="M1025.7,1420.7Q1030.2,1417.8 1035.5,1418.6" fill="none" stroke="#6f8a95" stroke-width="0.8" stroke-linecap="round"/>
<path d="M772.8,1407Q774.6,1408.8 776.2,1410.7" fill="none" stroke="#6f8a95" stroke-width="0.8" stroke-linecap="round"/>
<path d="M1125.7,1278.5Q1128,1278.9 1128.6,1281.2" fill="none" stroke="#6f8a95" stroke-width="0.8" stroke-linecap="round"/>
<path d="M1351.5,1490.7Q1354,1493.2 1357.1,1494.9" fill="none" stroke="#111" stroke-width="0.9" stroke-linecap="round"/>
<path d="M1054.2,1368Q1055.5,1373.5 1060.7,1375.7" fill="none" stroke="#6f8a95" stroke-width="0.8" stroke-linecap="round"/>
<path d="M1166.1,1476.1Q1168.1,1476.7 1170.1,1476.5" fill="none" stroke="#6f8a95" stroke-width="0.8" stroke-linecap="round"/>
<path d="M1019.2,1375Q1027.1,1377.2 1028.8,1385.2" fill="none" stroke="#6f8a95" stroke-width="0.8" stroke-linecap="round"/>
<path d="M868.5,1266.9Q871.7,1266.9 874.3,1265.1" fill="none" stroke="#6f8a95" stroke-width="0.8" stroke-linecap="round"/>
<path d="M1169.4,1379.5Q1171.5,1378.7 1172.1,1376.5" fill="none" stroke="#6f8a95" stroke-width="0.8" stroke-linecap="round"/>
<path d="M983.5,1382.7Q990.6,1379.9 993.2,1372.7" fill="none" stroke="#6f8a95" stroke-width="0.8" stroke-linecap="round"/>
<path d="M923.6,1353.7Q931.1,1353.6 936.7,1358.5" fill="none" stroke="#6f8a95" stroke-width="0.8" stroke-linecap="round"/>
<path d="M867,1274.5Q867.9,1277.3 870.7,1277.9" fill="none" stroke="#6f8a95" stroke-width="0.8" stroke-linecap="round"/>
<path d="M711.5,1319Q718.5,1320.4 724.3,1324.5" fill="none" stroke="#6f8a95" stroke-width="0.8" stroke-linecap="round"/>
<path d="M873.3,1435.7Q872.2,1441 875.2,1445.5" fill="none" stroke="#6f8a95" stroke-width="0.8" stroke-linecap="round"/>
<path d="M1246,1423.8Q1250.2,1420.9 1252.7,1416.5" fill="none" stroke="#6f8a95" stroke-width="0.8" stroke-linecap="round"/>
<path d="M1170.4,1476.5Q1173.7,1475.5 1176.3,1477.6" fill="none" stroke="#6f8a95" stroke-width="0.8" stroke-linecap="round"/>
<path d="M950.2,1424.4Q953.7,1428.1 958.4,1430.1" fill="none" stroke="#6f8a95" stroke-width="0.8" stroke-linecap="round"/>
<path d="M901.3,1353.2Q903.2,1353.9 905.1,1354.6" fill="none" stroke="#6f8a95" stroke-width="0.8" stroke-linecap="round"/>
<path d="M1358,1434.2Q1355.5,1440.8 1360.3,1446" fill="none" stroke="#6f8a95" stroke-width="0.8" stroke-linecap="round"/>
<path d="M786.6,1294.5Q794.6,1296.8 800,1290.5" fill="none" stroke="#6f8a95" stroke-width="0.8" stroke-linecap="round"/>
<path d="M909.7,1350.2Q912.8,1350.5 915.4,1352.1" fill="none" stroke="#6f8a95" stroke-width="0.8" stroke-linecap="round"/>
<path d="M1187.3,1469.9Q1188,1472.8 1188.7,1475.7" fill="none" stroke="#6f8a95" stroke-width="0.8" stroke-linecap="round"/>
<path d="M1385.5,1423.4Q1391,1419 1397.4,1416.2" fill="none" stroke="#6f8a95" stroke-width="0.8" stroke-linecap="round"/>
<path d="M1091.4,1393Q1095.1,1399 1102.1,1398.3" fill="none" stroke="#6f8a95" stroke-width="0.8" stroke-linecap="round"/>
<path d="M942.1,1422.3Q944.1,1422.7 946,1421.9" fill="none" stroke="#6f8a95" stroke-width="0.8" stroke-linecap="round"/>
<path d="M1152.6,1396.4Q1154.6,1396.9 1156.4,1397.7" fill="none" stroke="#6f8a95" stroke-width="0.8" stroke-linecap="round"/>
<path d="M1137.7,1431.7Q1137.4,1423.3 1145,1419.7" fill="none" stroke="#6f8a95" stroke-width="0.8" stroke-linecap="round"/>
<path d="M1065,1312Q1067.1,1312.3 1068.9,1311.2" fill="none" stroke="#6f8a95" stroke-width="0.8" stroke-linecap="round"/>
<path d="M931.4,1471.4Q938.2,1470.6 941.2,1464.4" fill="none" stroke="#6f8a95" stroke-width="0.8" stroke-linecap="round"/>
<path d="M1000.1,1320.6Q1004.6,1325.9 1002.2,1332.4" fill="none" stroke="#6f8a95" stroke-width="0.8" stroke-linecap="round"/>
<path d="M1104.3,1504.4Q1107.7,1504.9 1109.1,1508" fill="none" stroke="#6f8a95" stroke-width="0.8" stroke-linecap="round"/>
<path d="M902,1476.4Q904.7,1477.8 906.8,1479.9" fill="none" stroke="#6f8a95" stroke-width="0.8" stroke-linecap="round"/>
<path d="M868.4,1428Q868.8,1434.7 874.2,1438.5" fill="none" stroke="#6f8a95" stroke-width="0.8" stroke-linecap="round"/>
<path d="M928.5,1374.9Q930.8,1378.2 933.6,1381" fill="none" stroke="#6f8a95" stroke-width="0.8" stroke-linecap="round"/>
<path d="M1212.9,1413.9Q1213.9,1419.1 1217.6,1422.8" fill="none" stroke="#6f8a95" stroke-width="0.8" stroke-linecap="round"/>
<path d="M1052.2,1372.9Q1053.7,1367.4 1059.3,1365.8" fill="none" stroke="#6f8a95" stroke-width="0.8" stroke-linecap="round"/>
<path d="M892.7,1349.4Q898.7,1348.8 904.7,1350.2" fill="none" stroke="#6f8a95" stroke-width="0.8" stroke-linecap="round"/>
<path d="M1358.6,1458.8Q1363.5,1455.3 1368.7,1452.2" fill="none" stroke="#6f8a95" stroke-width="0.8" stroke-linecap="round"/>
<path d="M820.6,1316.1Q824,1315.7 826.2,1318.4" fill="none" stroke="#6f8a95" stroke-width="0.8" stroke-linecap="round"/>
<path d="M928.7,1425.9Q930.4,1424.9 932,1423.7" fill="none" stroke="#6f8a95" stroke-width="0.8" stroke-linecap="round"/>
<path d="M1000.6,1474.4Q1002.2,1471.6 1005.3,1470.7" fill="none" stroke="#6f8a95" stroke-width="0.8" stroke-linecap="round"/>
<path d="M813.6,1269Q815.1,1271 816.5,1273.1" fill="none" stroke="#6f8a95" stroke-width="0.8" stroke-linecap="round"/>
<path d="M803.1,1267.7Q802,1271.2 804.7,1273.5" fill="none" stroke="#6f8a95" stroke-width="0.8" stroke-linecap="round"/>
<path d="M1032.2,1388.1Q1031.4,1390.3 1033,1392" fill="none" stroke="#6f8a95" stroke-width="0.8" stroke-linecap="round"/>
<path d="M1043.2,1436.2Q1050,1435.9 1053.4,1430.1" fill="none" stroke="#6f8a95" stroke-width="0.8" stroke-linecap="round"/>
<path d="M659.7,1324.4Q661.6,1325.9 663.7,1324.8" fill="none" stroke="#6f8a95" stroke-width="0.8" stroke-linecap="round"/>
<path d="M1148.1,1456.7Q1152.2,1458 1154.5,1461.6" fill="none" stroke="#6f8a95" stroke-width="0.8" stroke-linecap="round"/>
<path d="M878.2,1257.8Q878.8,1260.3 879.5,1262.7" fill="none" stroke="#6f8a95" stroke-width="0.8" stroke-linecap="round"/>
<path d="M1029,1328.4Q1033.6,1332.8 1039.9,1333.5" fill="none" stroke="#6f8a95" stroke-width="0.8" stroke-linecap="round"/>
<path d="M1228.3,1516.3Q1229.4,1520.4 1233.6,1521" fill="none" stroke="#111" stroke-width="0.9" stroke-linecap="round"/>
<path d="M1280.5,1427.6Q1281.5,1423 1286,1421.8" fill="none" stroke="#6f8a95" stroke-width="0.8" stroke-linecap="round"/>
<path d="M862.6,1364.8Q868.1,1369.9 868.9,1377.3" fill="none" stroke="#6f8a95" stroke-width="0.8" stroke-linecap="round"/>
<path d="M868.2,1298.7Q868,1301 869.8,1302.4" fill="none" stroke="#6f8a95" stroke-width="0.8" stroke-linecap="round"/>
<path d="M724.4,1263.2Q726.6,1263.1 728.2,1264.5" fill="none" stroke="#6f8a95" stroke-width="0.8" stroke-linecap="round"/>
<path d="M1104.4,1374.9Q1111.5,1375.6 1118,1378.5" fill="none" stroke="#6f8a95" stroke-width="0.8" stroke-linecap="round"/>
<path d="M1237.2,1566.4Q1238.4,1565.4 1239.8,1565" fill="none" stroke="#111" stroke-width="0.9" stroke-linecap="round"/>
<path d="M900.1,1534.9Q905.4,1532.1 911,1530" fill="none" stroke="#6f8a95" stroke-width="0.8" stroke-linecap="round"/>
<path d="M1058.1,1423Q1059.9,1423.9 1061.7,1424.8" fill="none" stroke="#6f8a95" stroke-width="0.8" stroke-linecap="round"/>
<path d="M952.8,1403.5Q955.4,1407.6 960.2,1406.7" fill="none" stroke="#6f8a95" stroke-width="0.8" stroke-linecap="round"/>
<path d="M1214.8,1483.4Q1213.9,1487.7 1216.5,1491.2" fill="none" stroke="#6f8a95" stroke-width="0.8" stroke-linecap="round"/>
<path d="M1222.1,1423.4Q1223.7,1427.1 1224.9,1430.9" fill="none" stroke="#6f8a95" stroke-width="0.8" stroke-linecap="round"/>
<path d="M844.1,1294.9Q847.3,1290.9 849.4,1286.4" fill="none" stroke="#6f8a95" stroke-width="0.8" stroke-linecap="round"/>
<path d="M754.1,1414.9Q756.4,1412.9 758.1,1410.5" fill="none" stroke="#6f8a95" stroke-width="0.8" stroke-linecap="round"/>
<path d="M882.3,1283.6Q888.1,1285.4 891.9,1280.7" fill="none" stroke="#6f8a95" stroke-width="0.8" stroke-linecap="round"/>
<path d="M715.8,1370.1Q716.9,1373.4 720.2,1374.1" fill="none" stroke="#6f8a95" stroke-width="0.8" stroke-linecap="round"/>
<path d="M984.8,1497.1Q989.9,1498.1 994.7,1496" fill="none" stroke="#6f8a95" stroke-width="0.8" stroke-linecap="round"/>
<path d="M936.1,1442.3Q936.6,1448.8 941.6,1453" fill="none" stroke="#6f8a95" stroke-width="0.8" stroke-linecap="round"/>
<path d="M1066.4,1539.6Q1067.5,1540.6 1069.1,1540.9" fill="none" stroke="#111" stroke-width="0.9" stroke-linecap="round"/>
<path d="M958.1,1415.5Q964.7,1419.5 966.1,1427" fill="none" stroke="#6f8a95" stroke-width="0.8" stroke-linecap="round"/>
<path d="M1186.6,1437.8Q1193.7,1439.2 1199.2,1443.9" fill="none" stroke="#6f8a95" stroke-width="0.8" stroke-linecap="round"/>
<path d="M1047.3,1489.8Q1053.4,1491.3 1059.3,1489.3" fill="none" stroke="#6f8a95" stroke-width="0.8" stroke-linecap="round"/>
<path d="M896.1,1404.1Q896,1406.3 897.7,1407.8" fill="none" stroke="#6f8a95" stroke-width="0.8" stroke-linecap="round"/>
<path d="M648.4,1314.1Q649.6,1316.3 649.7,1318.9" fill="none" stroke="#6f8a95" stroke-width="0.8" stroke-linecap="round"/>
<path d="M846.2,1454.4Q850.9,1459.8 853,1466.6" fill="none" stroke="#6f8a95" stroke-width="0.8" stroke-linecap="round"/>
<path d="M1186.3,1546Q1187.8,1545.9 1189.1,1545.1" fill="none" stroke="#111" stroke-width="0.9" stroke-linecap="round"/>
<path d="M894.6,1371.5Q897.4,1369.9 898,1366.6" fill="none" stroke="#6f8a95" stroke-width="0.8" stroke-linecap="round"/>
<path d="M1000.4,1410.5Q1006.8,1412.3 1012.2,1408.4" fill="none" stroke="#6f8a95" stroke-width="0.8" stroke-linecap="round"/>
<path d="M1323.6,1506.5Q1327.6,1504 1329.6,1499.8" fill="none" stroke="#111" stroke-width="0.9" stroke-linecap="round"/>
<path d="M1424.1,1458.5Q1426.7,1459.4 1427.7,1462" fill="none" stroke="#111" stroke-width="0.9" stroke-linecap="round"/>
<path d="M1182.6,1473.4Q1187.1,1475.9 1190.3,1479.8" fill="none" stroke="#6f8a95" stroke-width="0.8" stroke-linecap="round"/>
<path d="M1150.6,1515.5Q1153,1517.1 1152.7,1520" fill="none" stroke="#111" stroke-width="0.9" stroke-linecap="round"/>
<path d="M1118.2,1493.7Q1121.7,1491.5 1123.6,1487.8" fill="none" stroke="#6f8a95" stroke-width="0.8" stroke-linecap="round"/>
<path d="M1118,1423.6Q1121,1422.3 1121.9,1419.1" fill="none" stroke="#6f8a95" stroke-width="0.8" stroke-linecap="round"/>
<path d="M816.3,1468.5Q821.3,1467.7 826.1,1466.5" fill="none" stroke="#6f8a95" stroke-width="0.8" stroke-linecap="round"/>
<path d="M1089.1,1314.8Q1089.7,1317.9 1092,1320.1" fill="none" stroke="#6f8a95" stroke-width="0.8" stroke-linecap="round"/>
<path d="M1010.3,1412.6Q1011.8,1418.6 1015.8,1423.2" fill="none" stroke="#6f8a95" stroke-width="0.8" stroke-linecap="round"/>
<path d="M1212.6,1536.9Q1213.2,1534.6 1215.5,1534.1" fill="none" stroke="#111" stroke-width="0.9" stroke-linecap="round"/>
<path d="M1060.4,1375Q1062.8,1376.3 1065.4,1375.3" fill="none" stroke="#6f8a95" stroke-width="0.8" stroke-linecap="round"/>
<path d="M941.8,1361.9Q945.3,1359.5 946.1,1355.2" fill="none" stroke="#6f8a95" stroke-width="0.8" stroke-linecap="round"/>
<path d="M1180.5,1440.5Q1185.6,1444.3 1187.1,1450.5" fill="none" stroke="#6f8a95" stroke-width="0.8" stroke-linecap="round"/>
<path d="M1166.1,1382Q1170.6,1384.9 1175.9,1383.9" fill="none" stroke="#6f8a95" stroke-width="0.8" stroke-linecap="round"/>
<path d="M875.5,1275.5Q876.2,1273.4 878.2,1272.5" fill="none" stroke="#6f8a95" stroke-width="0.8" stroke-linecap="round"/>
<path d="M876.7,1357.6Q879.5,1356.6 879.8,1353.7" fill="none" stroke="#6f8a95" stroke-width="0.8" stroke-linecap="round"/>
<path d="M1053.6,1516Q1055.6,1516.1 1057.6,1515.6" fill="none" stroke="#6f8a95" stroke-width="0.8" stroke-linecap="round"/>
<path d="M996.2,1510Q1000.2,1508 1000.9,1503.6" fill="none" stroke="#6f8a95" stroke-width="0.8" stroke-linecap="round"/>
<path d="M869.8,1397Q877.6,1400 883.5,1394.2" fill="none" stroke="#6f8a95" stroke-width="0.8" stroke-linecap="round"/>
<path d="M1065.5,1485.1Q1068,1477.6 1075.7,1475.5" fill="none" stroke="#6f8a95" stroke-width="0.8" stroke-linecap="round"/>
<path d="M1281.3,1440.5Q1288.1,1442.4 1294.5,1445.2" fill="none" stroke="#6f8a95" stroke-width="0.8" stroke-linecap="round"/>
<path d="M1249.8,1435Q1251.9,1436.4 1254.4,1437.1" fill="none" stroke="#6f8a95" stroke-width="0.8" stroke-linecap="round"/>
<path d="M979.9,1406.3Q984.3,1405.4 986.2,1401.3" fill="none" stroke="#6f8a95" stroke-width="0.8" stroke-linecap="round"/>
<path d="M908,1404.8Q911.1,1404.7 913.7,1402.9" fill="none" stroke="#6f8a95" stroke-width="0.8" stroke-linecap="round"/>
<path d="M1311.2,1551.9Q1314.9,1554.8 1319.7,1554.7" fill="none" stroke="#111" stroke-width="0.9" stroke-linecap="round"/>
<path d="M823.1,1444.9Q826.4,1449.2 825.5,1454.6" fill="none" stroke="#6f8a95" stroke-width="0.8" stroke-linecap="round"/>
<path d="M1072.9,1496.7Q1076.4,1499.1 1077.7,1503.1" fill="none" stroke="#6f8a95" stroke-width="0.8" stroke-linecap="round"/>
<path d="M732.7,1365.1Q735.9,1367.6 739.1,1370" fill="none" stroke="#6f8a95" stroke-width="0.8" stroke-linecap="round"/>
<path d="M897.7,1377.1Q898.1,1379.1 899.5,1380.7" fill="none" stroke="#6f8a95" stroke-width="0.8" stroke-linecap="round"/>
<path d="M1099.1,1333.3Q1102,1331.8 1102.9,1328.7" fill="none" stroke="#6f8a95" stroke-width="0.8" stroke-linecap="round"/>
<path d="M1334.2,1532.7Q1336.2,1533.1 1337.8,1534.6" fill="none" stroke="#111" stroke-width="0.9" stroke-linecap="round"/>
<path d="M922.6,1417Q924.7,1417.6 926.6,1416.3" fill="none" stroke="#6f8a95" stroke-width="0.8" stroke-linecap="round"/>
<path d="M1116.8,1459.3Q1121.9,1463.4 1128.4,1462.4" fill="none" stroke="#6f8a95" stroke-width="0.8" stroke-linecap="round"/>
<path d="M937.7,1426.4Q939.3,1424.3 941.9,1423.8" fill="none" stroke="#6f8a95" stroke-width="0.8" stroke-linecap="round"/>
<path d="M919,1447.3Q920.2,1441.9 924.9,1439.2" fill="none" stroke="#6f8a95" stroke-width="0.8" stroke-linecap="round"/>
<path d="M1271.8,1487.8Q1272.4,1486.1 1274.2,1485.9" fill="none" stroke="#111" stroke-width="0.9" stroke-linecap="round"/>
<path d="M689.5,1338.5Q691.4,1340.9 693.8,1342.7" fill="none" stroke="#6f8a95" stroke-width="0.8" stroke-linecap="round"/>
<path d="M1040,1277.3Q1042.1,1277.1 1043.9,1278.1" fill="none" stroke="#6f8a95" stroke-width="0.8" stroke-linecap="round"/>
<path d="M1271.9,1412.4Q1275.5,1412.5 1277.1,1409.3" fill="none" stroke="#6f8a95" stroke-width="0.8" stroke-linecap="round"/>
<path d="M735.5,1312.2Q742.5,1311.9 749.4,1313.6" fill="none" stroke="#6f8a95" stroke-width="0.8" stroke-linecap="round"/>
<path d="M1081.7,1430.9Q1081.7,1438.1 1084.6,1444.6" fill="none" stroke="#6f8a95" stroke-width="0.8" stroke-linecap="round"/>
<path d="M940.8,1374.6Q945.3,1377.1 950.3,1378" fill="none" stroke="#6f8a95" stroke-width="0.8" stroke-linecap="round"/>
<path d="M695.1,1276.1Q692.5,1284.2 699.1,1289.6" fill="none" stroke="#6f8a95" stroke-width="0.8" stroke-linecap="round"/>
<path d="M1275.8,1491.6Q1278,1491.7 1279.5,1490.1" fill="none" stroke="#111" stroke-width="0.9" stroke-linecap="round"/>
<path d="M1031.3,1431.5Q1039.3,1430.7 1042.9,1423.6" fill="none" stroke="#6f8a95" stroke-width="0.8" stroke-linecap="round"/>
<path d="M986.3,1427.1Q989.3,1420.7 993.3,1415" fill="none" stroke="#6f8a95" stroke-width="0.8" stroke-linecap="round"/>
<path d="M896.6,1317.4Q897.8,1319.9 900.7,1320.3" fill="none" stroke="#6f8a95" stroke-width="0.8" stroke-linecap="round"/>
<path d="M1294.6,1495.1Q1295.5,1496.9 1296.8,1498.5" fill="none" stroke="#111" stroke-width="0.9" stroke-linecap="round"/>
<path d="M1063.4,1405.4Q1066.6,1405.1 1068.9,1402.9" fill="none" stroke="#6f8a95" stroke-width="0.8" stroke-linecap="round"/>
<path d="M1089,1381.6Q1090.9,1378.1 1093.6,1375.1" fill="none" stroke="#6f8a95" stroke-width="0.8" stroke-linecap="round"/>
<path d="M940.5,1315.3Q942,1316.7 942.6,1318.7" fill="none" stroke="#6f8a95" stroke-width="0.8" stroke-linecap="round"/>
<path d="M909.9,1336.2Q911.3,1333.2 914.4,1332.2" fill="none" stroke="#6f8a95" stroke-width="0.8" stroke-linecap="round"/>
<path d="M845.9,1321.4Q848.8,1322.3 851.3,1324" fill="none" stroke="#6f8a95" stroke-width="0.8" stroke-linecap="round"/>
<path d="M1153,1475.5Q1154.7,1476.5 1156.5,1477.3" fill="none" stroke="#6f8a95" stroke-width="0.8" stroke-linecap="round"/>
<path d="M1230.6,1476.7Q1230.8,1479 1232.9,1480" fill="none" stroke="#6f8a95" stroke-width="0.8" stroke-linecap="round"/>
<path d="M1096.9,1502Q1103.4,1504.6 1110.5,1505.4" fill="none" stroke="#6f8a95" stroke-width="0.8" stroke-linecap="round"/>
<path d="M819.3,1282.7Q825.4,1282.2 831,1279.9" fill="none" stroke="#6f8a95" stroke-width="0.8" stroke-linecap="round"/>
<path d="M961.8,1337Q964.9,1337.8 967.8,1336.6" fill="none" stroke="#6f8a95" stroke-width="0.8" stroke-linecap="round"/>
<path d="M651.5,1293.1Q653.1,1291.8 655.1,1291.3" fill="none" stroke="#6f8a95" stroke-width="0.8" stroke-linecap="round"/>
<path d="M962,1512.3Q968.4,1513.1 972.7,1517.9" fill="none" stroke="#6f8a95" stroke-width="0.8" stroke-linecap="round"/>
<path d="M1125.1,1350.9Q1127.6,1351.1 1130,1350.3" fill="none" stroke="#6f8a95" stroke-width="0.8" stroke-linecap="round"/>
<path d="M1113.3,1318.4Q1116.9,1321.1 1121.2,1320" fill="none" stroke="#6f8a95" stroke-width="0.8" stroke-linecap="round"/>
<path d="M1383.4,1417.8Q1385.9,1414.7 1388.9,1412.1" fill="none" stroke="#6f8a95" stroke-width="0.8" stroke-linecap="round"/>
<path d="M826.8,1454.8Q828.1,1461.7 831.3,1468" fill="none" stroke="#6f8a95" stroke-width="0.8" stroke-linecap="round"/>
<path d="M1239.1,1529.6Q1242.3,1530.9 1245.8,1531.5" fill="none" stroke="#111" stroke-width="0.9" stroke-linecap="round"/>
<path d="M1038.8,1365Q1042.3,1361.3 1047,1359.3" fill="none" stroke="#6f8a95" stroke-width="0.8" stroke-linecap="round"/>
<path d="M1293.1,1470.9Q1294,1472.6 1295,1474.4" fill="none" stroke="#111" stroke-width="0.9" stroke-linecap="round"/>
<path d="M1164,1296.8Q1170.2,1298.9 1172.6,1305" fill="none" stroke="#6f8a95" stroke-width="0.8" stroke-linecap="round"/>
<path d="M992.9,1381.5Q995.2,1385 994.7,1389.3" fill="none" stroke="#6f8a95" stroke-width="0.8" stroke-linecap="round"/>
<path d="M920.3,1381.8Q921.3,1389 925.5,1394.8" fill="none" stroke="#6f8a95" stroke-width="0.8" stroke-linecap="round"/>
<path d="M1029.4,1422.1Q1031.6,1422 1033.1,1423.7" fill="none" stroke="#6f8a95" stroke-width="0.8" stroke-linecap="round"/>
<path d="M1070.3,1437.9Q1071.9,1436.6 1073.3,1435.2" fill="none" stroke="#6f8a95" stroke-width="0.8" stroke-linecap="round"/>
<path d="M1360.7,1480.5Q1361.5,1484.5 1365.4,1485.8" fill="none" stroke="#111" stroke-width="0.9" stroke-linecap="round"/>
<path d="M1283.9,1423Q1284.8,1429.2 1289.3,1433.7" fill="none" stroke="#6f8a95" stroke-width="0.8" stroke-linecap="round"/>
<path d="M1125,1418.8Q1128.4,1417.9 1130.8,1420.4" fill="none" stroke="#6f8a95" stroke-width="0.8" stroke-linecap="round"/>
<path d="M916.3,1321.4Q920.9,1326.2 920,1332.8" fill="none" stroke="#6f8a95" stroke-width="0.8" stroke-linecap="round"/>
<path d="M1087.4,1531.6Q1091.3,1528.7 1092.5,1524.1" fill="none" stroke="#111" stroke-width="0.9" stroke-linecap="round"/>
<path d="M966.8,1535.5Q969.8,1534.5 971.9,1532.3" fill="none" stroke="#6f8a95" stroke-width="0.8" stroke-linecap="round"/>
<path d="M1039,1459.2Q1042.3,1460.2 1043.2,1463.5" fill="none" stroke="#6f8a95" stroke-width="0.8" stroke-linecap="round"/>
<path d="M1225.1,1485.4Q1226.1,1489.9 1229,1493.5" fill="none" stroke="#111" stroke-width="0.9" stroke-linecap="round"/>
<path d="M1004.4,1337.1Q1010.3,1338.8 1015.1,1342.5" fill="none" stroke="#6f8a95" stroke-width="0.8" stroke-linecap="round"/>
<path d="M1197.7,1393.9Q1202.8,1393.7 1207.4,1391.5" fill="none" stroke="#6f8a95" stroke-width="0.8" stroke-linecap="round"/>
<path d="M1249,1540.2Q1248.3,1543.1 1250.5,1545" fill="none" stroke="#111" stroke-width="0.9" stroke-linecap="round"/>
<path d="M1094.3,1339.2Q1096.3,1338.8 1098.3,1339" fill="none" stroke="#6f8a95" stroke-width="0.8" stroke-linecap="round"/>
<path d="M974.8,1514.2Q976.5,1515.6 976.3,1517.9" fill="none" stroke="#6f8a95" stroke-width="0.8" stroke-linecap="round"/>
<path d="M1307.9,1418.1Q1310.3,1414.8 1313.7,1412.5" fill="none" stroke="#6f8a95" stroke-width="0.8" stroke-linecap="round"/>
<path d="M1122.3,1518.1Q1124.3,1519.7 1125.9,1521.6" fill="none" stroke="#111" stroke-width="0.9" stroke-linecap="round"/>
<path d="M997.3,1293.2Q997.1,1295.3 998.1,1297.1" fill="none" stroke="#6f8a95" stroke-width="0.8" stroke-linecap="round"/>
<path d="M1190.6,1513.1Q1191.5,1516.6 1193.8,1519.4" fill="none" stroke="#111" stroke-width="0.9" stroke-linecap="round"/>
<path d="M1269.3,1461Q1276.1,1458.5 1281,1463.8" fill="none" stroke="#6f8a95" stroke-width="0.8" stroke-linecap="round"/>
<path d="M823.6,1480.1Q826.1,1479.5 828.2,1478.1" fill="none" stroke="#6f8a95" stroke-width="0.8" stroke-linecap="round"/>
<path d="M1189.5,1511.2Q1191,1509.6 1193.1,1509.5" fill="none" stroke="#111" stroke-width="0.9" stroke-linecap="round"/>
<path d="M648.4,1287.3Q649.6,1281.6 655,1279.7" fill="none" stroke="#6f8a95" stroke-width="0.8" stroke-linecap="round"/>
<path d="M1179.5,1468.6Q1182.3,1469 1184.2,1466.9" fill="none" stroke="#6f8a95" stroke-width="0.8" stroke-linecap="round"/>
<path d="M949.8,1493.7Q955.8,1495.3 960.1,1499.8" fill="none" stroke="#6f8a95" stroke-width="0.8" stroke-linecap="round"/>
<path d="M972.1,1309Q972,1306.6 974.1,1305.5" fill="none" stroke="#6f8a95" stroke-width="0.8" stroke-linecap="round"/>
<path d="M951.2,1450Q956.1,1446.3 962.1,1445.1" fill="none" stroke="#6f8a95" stroke-width="0.8" stroke-linecap="round"/>
<path d="M1123.6,1485Q1126.1,1485.1 1128.4,1486.1" fill="none" stroke="#6f8a95" stroke-width="0.8" stroke-linecap="round"/>
<path d="M818.4,1287.9Q820.7,1289.8 822.6,1292.1" fill="none" stroke="#6f8a95" stroke-width="0.8" stroke-linecap="round"/>
<path d="M1151.2,1466.6Q1152.9,1468.5 1154.7,1470.2" fill="none" stroke="#6f8a95" stroke-width="0.8" stroke-linecap="round"/>
<path d="M1025.8,1275.6Q1032.9,1277.8 1036.7,1284.2" fill="none" stroke="#6f8a95" stroke-width="0.8" stroke-linecap="round"/>
<path d="M1346.4,1451.5Q1347.9,1449.2 1350.7,1448.9" fill="none" stroke="#6f8a95" stroke-width="0.8" stroke-linecap="round"/>
<path d="M860.2,1476.9Q863.5,1479.2 866.8,1481.4" fill="none" stroke="#6f8a95" stroke-width="0.8" stroke-linecap="round"/>
<path d="M1136.9,1511.6Q1139.4,1507.1 1143.5,1504.1" fill="none" stroke="#6f8a95" stroke-width="0.8" stroke-linecap="round"/>
<path d="M1189.1,1390Q1193.1,1389.3 1197,1388.7" fill="none" stroke="#6f8a95" stroke-width="0.8" stroke-linecap="round"/>
<path d="M998.1,1542.1Q999.8,1543.3 1000.4,1545.4" fill="none" stroke="#6f8a95" stroke-width="0.8" stroke-linecap="round"/>
<path d="M856.4,1505.5Q864.4,1507.8 869.8,1501.4" fill="none" stroke="#6f8a95" stroke-width="0.8" stroke-linecap="round"/>
<path d="M988.8,1500.7Q996.2,1500 1002.3,1504.3" fill="none" stroke="#6f8a95" stroke-width="0.8" stroke-linecap="round"/>
<path d="M848.3,1298.1Q848.6,1303.2 850.9,1307.8" fill="none" stroke="#6f8a95" stroke-width="0.8" stroke-linecap="round"/>
<path d="M1039.7,1446.2Q1042.9,1445.9 1045,1443.5" fill="none" stroke="#6f8a95" stroke-width="0.8" stroke-linecap="round"/>
<path d="M1032.4,1337Q1033.8,1334.4 1036.7,1334.4" fill="none" stroke="#6f8a95" stroke-width="0.8" stroke-linecap="round"/>
<path d="M1002.6,1443.6Q1004,1448.5 1007.1,1452.6" fill="none" stroke="#6f8a95" stroke-width="0.8" stroke-linecap="round"/>
<path d="M1273.3,1545.7Q1274.8,1545.6 1276.2,1546.2" fill="none" stroke="#111" stroke-width="0.9" stroke-linecap="round"/>
<path d="M918.2,1387.2Q918.3,1394.2 924.5,1397.5" fill="none" stroke="#6f8a95" stroke-width="0.8" stroke-linecap="round"/>
<path d="M1245.5,1386.7Q1249.5,1391.1 1247.2,1396.6" fill="none" stroke="#6f8a95" stroke-width="0.8" stroke-linecap="round"/>
<path d="M1301.5,1519.9Q1305.6,1517.6 1310.2,1517.5" fill="none" stroke="#111" stroke-width="0.9" stroke-linecap="round"/>
<path d="M1219.9,1412.4Q1224.6,1414.1 1229.7,1414.2" fill="none" stroke="#6f8a95" stroke-width="0.8" stroke-linecap="round"/>
<path d="M1026,1335.3Q1027.5,1340.3 1031.5,1343.7" fill="none" stroke="#6f8a95" stroke-width="0.8" stroke-linecap="round"/>
<path d="M1235.7,1496.8Q1237.7,1497 1239.5,1498.1" fill="none" stroke="#111" stroke-width="0.9" stroke-linecap="round"/>
<path d="M1095.9,1318.2Q1097.7,1320.1 1100.3,1320.6" fill="none" stroke="#6f8a95" stroke-width="0.8" stroke-linecap="round"/>
<path d="M1324.2,1443.8Q1327.1,1443.4 1328.7,1446" fill="none" stroke="#6f8a95" stroke-width="0.8" stroke-linecap="round"/>
<path d="M689.6,1267.7Q692.2,1266.7 694.6,1268.3" fill="none" stroke="#6f8a95" stroke-width="0.8" stroke-linecap="round"/>
<path d="M799.9,1239.5Q801.3,1242.1 804.2,1242.2" fill="none" stroke="#6f8a95" stroke-width="0.8" stroke-linecap="round"/>
<path d="M1047.1,1381.6Q1052.4,1386.7 1059.6,1388.1" fill="none" stroke="#6f8a95" stroke-width="0.8" stroke-linecap="round"/>
<path d="M1260.8,1556.4Q1261.9,1554.5 1263.9,1553.8" fill="none" stroke="#111" stroke-width="0.9" stroke-linecap="round"/>
<path d="M1019.8,1309Q1018.6,1313.6 1022.2,1316.6" fill="none" stroke="#6f8a95" stroke-width="0.8" stroke-linecap="round"/>
<path d="M1275.2,1487.2Q1279.1,1487 1281.8,1489.6" fill="none" stroke="#111" stroke-width="0.9" stroke-linecap="round"/>
<path d="M796.1,1394Q798.9,1390.9 802.9,1389.7" fill="none" stroke="#6f8a95" stroke-width="0.8" stroke-linecap="round"/>
<path d="M790.2,1295.6Q792,1294.7 793.9,1294.3" fill="none" stroke="#6f8a95" stroke-width="0.8" stroke-linecap="round"/>
<path d="M660.7,1337.1Q667.2,1334.1 667,1326.9" fill="none" stroke="#6f8a95" stroke-width="0.8" stroke-linecap="round"/>
<path d="M698.4,1439.8Q704.2,1444 711.3,1445.2" fill="none" stroke="#6f8a95" stroke-width="0.8" stroke-linecap="round"/>
<path d="M544,1321.8Q546.5,1321.1 548.5,1319.5" fill="none" stroke="#6f8a95" stroke-width="0.8" stroke-linecap="round"/>
<path d="M654,1404.8Q658.1,1405 661.8,1403.1" fill="none" stroke="#6f8a95" stroke-width="0.8" stroke-linecap="round"/>
<path d="M553.9,1365.5Q560.2,1368.7 565.7,1373.1" fill="none" stroke="#6f8a95" stroke-width="0.8" stroke-linecap="round"/>
<path d="M591.5,1345.2Q592.7,1347.9 593.5,1350.8" fill="none" stroke="#6f8a95" stroke-width="0.8" stroke-linecap="round"/>
<path d="M579.6,1362.7Q584,1362.4 586.6,1358.9" fill="none" stroke="#6f8a95" stroke-width="0.8" stroke-linecap="round"/>
<path d="M528.3,1343.6Q531.1,1346.6 535.2,1347.6" fill="none" stroke="#6f8a95" stroke-width="0.8" stroke-linecap="round"/>
<path d="M499.6,1352.4Q500.7,1347.9 505.2,1346.7" fill="none" stroke="#6f8a95" stroke-width="0.8" stroke-linecap="round"/>
<path d="M470.4,1322.4Q475,1326.6 481.1,1327.9" fill="none" stroke="#6f8a95" stroke-width="0.8" stroke-linecap="round"/>
<path d="M700,1382.4Q702.3,1384.3 704.4,1386.5" fill="none" stroke="#6f8a95" stroke-width="0.8" stroke-linecap="round"/>
<path d="M577.3,1367.4Q582.5,1372 580.9,1378.8" fill="none" stroke="#6f8a95" stroke-width="0.8" stroke-linecap="round"/>
<path d="M600.5,1381Q603.2,1379.8 603.3,1376.9" fill="none" stroke="#6f8a95" stroke-width="0.8" stroke-linecap="round"/>
<path d="M545,1332.7Q548.3,1335.2 550.3,1338.8" fill="none" stroke="#6f8a95" stroke-width="0.8" stroke-linecap="round"/>
<path d="M652.4,1381.3Q654.5,1383.6 657.3,1384.8" fill="none" stroke="#6f8a95" stroke-width="0.8" stroke-linecap="round"/>
<path d="M573.9,1329.9Q574.9,1327.4 577.5,1326.5" fill="none" stroke="#6f8a95" stroke-width="0.8" stroke-linecap="round"/>
<path d="M710,1387.1Q714.5,1380.3 722.6,1381" fill="none" stroke="#6f8a95" stroke-width="0.8" stroke-linecap="round"/>
<path d="M533.6,1345.2Q534.4,1348.1 534.8,1351.1" fill="none" stroke="#6f8a95" stroke-width="0.8" stroke-linecap="round"/>
<path d="M692.6,1355.4Q695,1356 697.5,1356.2" fill="none" stroke="#6f8a95" stroke-width="0.8" stroke-linecap="round"/>
<path d="M711.4,1431.2Q713.6,1432.9 716.3,1432.2" fill="none" stroke="#6f8a95" stroke-width="0.8" stroke-linecap="round"/>
<path d="M630,1375.1Q631.2,1376.9 633.2,1377.6" fill="none" stroke="#6f8a95" stroke-width="0.8" stroke-linecap="round"/>
<path d="M549.8,1381Q557.2,1378.4 559.5,1370.8" fill="none" stroke="#6f8a95" stroke-width="0.8" stroke-linecap="round"/>
<path d="M591.4,1287.3Q592.7,1281.1 597.8,1277.2" fill="none" stroke="#6f8a95" stroke-width="0.8" stroke-linecap="round"/>
<path d="M647.5,1309.1Q649.7,1308.6 650.6,1306.5" fill="none" stroke="#6f8a95" stroke-width="0.8" stroke-linecap="round"/>
<path d="M597.4,1370.6Q602.6,1370.9 607.1,1368.3" fill="none" stroke="#6f8a95" stroke-width="0.8" stroke-linecap="round"/>
<path d="M637.3,1364.3Q644.6,1360.3 651.2,1365.2" fill="none" stroke="#6f8a95" stroke-width="0.8" stroke-linecap="round"/>
<path d="M567.3,1372.3Q571.1,1367.7 574.9,1363" fill="none" stroke="#6f8a95" stroke-width="0.8" stroke-linecap="round"/>
<path d="M593.9,1385.1Q595.9,1383.6 598.2,1382.6" fill="none" stroke="#6f8a95" stroke-width="0.8" stroke-linecap="round"/>
<path d="M718.4,1394.7Q719.4,1398.6 721.4,1402.1" fill="none" stroke="#6f8a95" stroke-width="0.8" stroke-linecap="round"/>
<path d="M599.6,1329.6Q602.3,1327.9 605.5,1328.5" fill="none" stroke="#6f8a95" stroke-width="0.8" stroke-linecap="round"/>
<path d="M644.6,1398.4Q651.7,1399.2 658.5,1397.2" fill="none" stroke="#6f8a95" stroke-width="0.8" stroke-linecap="round"/>
<path d="M598.9,1315.1Q600.4,1317.1 602.6,1318.4" fill="none" stroke="#6f8a95" stroke-width="0.8" stroke-linecap="round"/>
<path d="M539.9,1359.1Q542.3,1359 543.3,1361.1" fill="none" stroke="#6f8a95" stroke-width="0.8" stroke-linecap="round"/>
<path d="M643,1316.2Q646.5,1322.4 652,1327" fill="none" stroke="#6f8a95" stroke-width="0.8" stroke-linecap="round"/>
<path d="M558.5,1363.9Q560.7,1365.2 562.5,1366.9" fill="none" stroke="#6f8a95" stroke-width="0.8" stroke-linecap="round"/>
<path d="M634.2,1379Q635.5,1377.1 637.8,1377.2" fill="none" stroke="#6f8a95" stroke-width="0.8" stroke-linecap="round"/>
<path d="M594,1390.3Q597.9,1388.9 602,1389.6" fill="none" stroke="#6f8a95" stroke-width="0.8" stroke-linecap="round"/>
<path d="M469.1,1338.5Q474.5,1337.6 478.8,1341" fill="none" stroke="#6f8a95" stroke-width="0.8" stroke-linecap="round"/>
<path d="M666.8,1398.1Q671.6,1401.4 671.1,1407.1" fill="none" stroke="#6f8a95" stroke-width="0.8" stroke-linecap="round"/>
<path d="M677.8,1409.9Q679.4,1415.1 684.2,1417.6" fill="none" stroke="#6f8a95" stroke-width="0.8" stroke-linecap="round"/>
<path d="M718.6,1335.9Q719.2,1342.4 724.1,1346.6" fill="none" stroke="#6f8a95" stroke-width="0.8" stroke-linecap="round"/>
<path d="M518.4,1337.5Q521.6,1338 523.4,1340.8" fill="none" stroke="#6f8a95" stroke-width="0.8" stroke-linecap="round"/>
<circle cx="807.8" cy="1206.8" r="6.2" fill="#fff" stroke="#6f8a95" stroke-width="5.6"/>
<circle cx="852.8" cy="1199.2" r="6.2" fill="#fff" stroke="#6f8a95" stroke-width="5.6"/>
<circle cx="841.5" cy="1220.5" r="6.2" fill="#fff" stroke="#6f8a95" stroke-width="5.6"/>
<circle cx="878.4" cy="1214.6" r="6.2" fill="#fff" stroke="#6f8a95" stroke-width="5.6"/>
<circle cx="818" cy="1231.8" r="6.2" fill="#fff" stroke="#6f8a95" stroke-width="5.6"/>
<circle cx="878" cy="1237" r="6.2" fill="#fff" stroke="#6f8a95" stroke-width="5.6"/>
<circle cx="837" cy="1297" r="6.2" fill="#fff" stroke="#6f8a95" stroke-width="5.6"/>
<circle cx="880" cy="1341.3" r="6.2" fill="#fff" stroke="#6f8a95" stroke-width="5.6"/>
<circle cx="799.5" cy="1392.5" r="6.2" fill="#fff" stroke="#6f8a95" stroke-width="5.6"/>
<circle cx="1041.7" cy="1343.5" r="6.2" fill="#fff" stroke="#6f8a95" stroke-width="5.6"/>
<circle cx="1257.7" cy="1405.4" r="6.2" fill="#fff" stroke="#6f8a95" stroke-width="5.6"/>
<circle cx="1292" cy="1422.8" r="6.2" fill="#fff" stroke="#6f8a95" stroke-width="5.6"/>
<circle cx="1314.7" cy="1456.4" r="6.2" fill="#fff" stroke="#6f8a95" stroke-width="5.6"/>
<use href="#stem" transform="translate(745.9,1246.5) rotate(58) scale(1.08)" fill="#fff" stroke="#6f8a95"/>
<use href="#stem" transform="translate(711.8,1377.2) rotate(-9) scale(1.08)" fill="#fff" stroke="#6f8a95"/>
<use href="#stem" transform="translate(730,1426.9) rotate(-9) scale(1.08)" fill="#fff" stroke="#6f8a95"/>
<use href="#stem" transform="translate(954.9,1348.3) rotate(2) scale(1.08)" fill="#fff" stroke="#6f8a95"/>
<use href="#stem" transform="translate(1071.6,1410.5) rotate(58) scale(1.08)" fill="#fff" stroke="#6f8a95"/>
<use href="#stem" transform="translate(1166,1411.5) rotate(-22) scale(1.08)" fill="#fff" stroke="#6f8a95"/>
<use href="#stem" transform="translate(1210,1446) rotate(58) scale(1.08)" fill="#fff" stroke="#6f8a95"/>
<use href="#stem" transform="translate(1162.3,1497) rotate(66) scale(0.97)" fill="#fff" stroke="#6f8a95"/>
<path d="M1163.5,1509.5L1174,1504.5L1171,1514L1166,1516.5Z" fill="#fff" stroke="#111" stroke-width="2.2" stroke-linejoin="round"/>
<use href="#stem" transform="translate(1303,1530.7) rotate(66) scale(0.97)" fill="#fff" stroke="#111"/>
<use href="#lens" transform="translate(657,1281.3) rotate(-22) scale(0.62)" stroke="#6f8a95" stroke-width="0.75" fill="#fff"/>
<use href="#lens" transform="translate(740.2,1272.8) rotate(-22) scale(0.62)" stroke="#6f8a95" stroke-width="0.75" fill="#fff"/>
<use href="#lens" transform="translate(842.3,1252.4) rotate(-25) scale(0.62)" stroke="#6f8a95" stroke-width="0.75" fill="#fff"/>
<use href="#lens" transform="translate(926.8,1318.4) rotate(-22) scale(0.62)" stroke="#6f8a95" stroke-width="0.75" fill="#fff"/>
<use href="#lens" transform="translate(812.9,1469) rotate(-12) scale(0.62)" stroke="#6f8a95" stroke-width="0.75" fill="#fff"/>
<use href="#lens" transform="translate(1052.4,1380.8) rotate(-25) scale(0.62)" stroke="#6f8a95" stroke-width="0.75" fill="#fff"/>
<use href="#lens" transform="translate(1025.3,1449.4) rotate(-22) scale(0.62)" stroke="#6f8a95" stroke-width="0.75" fill="#fff"/>
<use href="#lens" transform="translate(973,1369.5) rotate(85) scale(0.62)" stroke="#6f8a95" stroke-width="0.75" fill="#fff"/>
<use href="#lens" transform="translate(1099,1480) rotate(-22) scale(0.62)" stroke="#6f8a95" stroke-width="0.75" fill="#fff"/>
<use href="#lens" transform="translate(1139.7,1401.8) rotate(60) scale(0.62)" stroke="#6f8a95" stroke-width="0.75" fill="#fff"/>
<use href="#lens" transform="translate(1115.8,1437.2) rotate(-18) scale(0.62)" stroke="#6f8a95" stroke-width="0.75" fill="#fff"/>
<use href="#lens" transform="translate(1138,1456.7) rotate(-18) scale(0.62)" stroke="#6f8a95" stroke-width="0.75" fill="#fff"/>
<use href="#lens" transform="translate(1106.7,1477.6) rotate(-18) scale(0.62)" stroke="#6f8a95" stroke-width="0.75" fill="#fff"/>
<use href="#lens" transform="translate(1261.5,1447.3) rotate(-18) scale(0.62)" stroke="#6f8a95" stroke-width="0.75" fill="#fff"/>
<use href="#lens" transform="translate(512.8,1350.4) rotate(-22) scale(0.62)" stroke="#6f8a95" stroke-width="0.75" fill="#fff"/>
<use href="#lens" transform="translate(1283.8,1502) rotate(-22) scale(0.62)" stroke="#111" stroke-width="0.75" fill="#fff"/>
<use href="#rfus" transform="translate(651.2,1343.2) scale(0.6)" stroke="#6f8a95" stroke-width="0.85" fill="#fff"/>
<use href="#rfus" transform="translate(926.8,1285.6) scale(0.6)" stroke="#6f8a95" stroke-width="0.85" fill="#fff"/>
<use href="#rfus" transform="translate(848.7,1416) scale(0.6)" stroke="#6f8a95" stroke-width="0.85" fill="#fff"/>
<use href="#rfus" transform="translate(865.4,1449.4) scale(0.6)" stroke="#6f8a95" stroke-width="0.85" fill="#fff"/>
<use href="#rfus" transform="translate(1012.6,1388.3) scale(0.6)" stroke="#6f8a95" stroke-width="0.85" fill="#fff"/>
<use href="#rfus" transform="translate(1090.8,1370.6) scale(0.6)" stroke="#6f8a95" stroke-width="0.85" fill="#fff"/>
<use href="#rfus" transform="translate(919,1510.3) scale(0.6)" stroke="#6f8a95" stroke-width="0.85" fill="#fff"/>
<use href="#rfus" transform="translate(1244.7,1510.5) scale(0.62)" stroke="#111" stroke-width="1.5" fill="#fff"/>
<use href="#rfus" transform="translate(1322,1492.7) scale(0.62)" stroke="#111" stroke-width="1.5" fill="#fff"/>
<use href="#rfus" transform="translate(1124.6,1567.8) scale(0.62)" stroke="#111" stroke-width="1.5" fill="#fff"/>
<use href="#gas" transform="translate(707.5,1261.3) rotate(-30) scale(0.75)" stroke="#6f8a95" stroke-width="1.15"/>
<use href="#gas" transform="translate(791.4,1295.3) rotate(7) scale(0.75)" stroke="#6f8a95" stroke-width="1.15"/>
<use href="#gas" transform="translate(699.8,1311.2) rotate(44) scale(0.75)" stroke="#6f8a95" stroke-width="1.15"/>
<use href="#gas" transform="translate(736.1,1318.9) rotate(-9) scale(0.75)" stroke="#6f8a95" stroke-width="1.15"/>
<use href="#gas" transform="translate(896.8,1275.9) rotate(28) scale(0.75)" stroke="#6f8a95" stroke-width="1.15"/>
<use href="#gas" transform="translate(887.4,1312) rotate(-25) scale(0.75)" stroke="#6f8a95" stroke-width="1.15"/>
<use href="#gas" transform="translate(834.1,1339.9) rotate(12) scale(0.75)" stroke="#6f8a95" stroke-width="1.15"/>
<use href="#gas" transform="translate(992.3,1292) rotate(49) scale(0.75)" stroke="#6f8a95" stroke-width="1.15"/>
<use href="#gas" transform="translate(996.1,1341.4) rotate(-4) scale(0.75)" stroke="#6f8a95" stroke-width="1.15"/>
<use href="#gas" transform="translate(914,1368) rotate(33) scale(0.75)" stroke="#6f8a95" stroke-width="1.15"/>
<use href="#gas" transform="translate(907.8,1400.8) rotate(-20) scale(0.75)" stroke="#6f8a95" stroke-width="1.15"/>
<use href="#gas" transform="translate(965.1,1412.3) rotate(17) scale(0.75)" stroke="#6f8a95" stroke-width="1.15"/>
<use href="#gas" transform="translate(1084.9,1452.7) rotate(54) scale(0.75)" stroke="#6f8a95" stroke-width="1.15"/>
<use href="#gas" transform="translate(1213.8,1400.5) rotate(1) scale(0.75)" stroke="#6f8a95" stroke-width="1.15"/>
<use href="#gas" transform="translate(1281,1469.5) rotate(38) scale(0.75)" stroke="#6f8a95" stroke-width="1.15"/>
<use href="#gas" transform="translate(908,1425) rotate(-15) scale(0.75)" stroke="#6f8a95" stroke-width="1.15"/>
<use href="#gas" transform="translate(1354.8,1472.9) scale(0.75)" stroke="#223" stroke-width="1.15"/>
<use href="#gas" transform="translate(1208.7,1514.6) scale(0.75)" stroke="#223" stroke-width="1.15"/>
<use href="#foram" transform="translate(811.9,1329.1) scale(0.95)" stroke="#6f8a95" stroke-width="0.55"/>
<use href="#foram" transform="translate(990.7,1432.8) scale(0.95)" stroke="#6f8a95" stroke-width="0.55"/>
<use href="#foram" transform="translate(1238.7,1472.5) scale(0.95)" stroke="#6f8a95" stroke-width="0.55"/>
<use href="#brach" transform="translate(788,1238.3) rotate(-35) scale(0.95)" stroke="#6f8a95"/>
<use href="#brach" transform="translate(772.7,1334.2) rotate(55) scale(0.95)" stroke="#6f8a95"/>
<use href="#brach" transform="translate(974.1,1311.2) rotate(-100) scale(0.95)" stroke="#6f8a95"/>
<use href="#brach" transform="translate(878.4,1375.2) rotate(-100) scale(0.95)" stroke="#6f8a95"/>
<use href="#brach" transform="translate(942.1,1393.1) rotate(-100) scale(0.95)" stroke="#6f8a95"/>
<use href="#brach" transform="translate(1091.3,1341.9) rotate(-100) scale(0.95)" stroke="#6f8a95"/>
<use href="#brach" transform="translate(1113.5,1402.8) rotate(-30) scale(0.95)" stroke="#6f8a95"/>
<use href="#brach" transform="translate(1170.7,1453.3) rotate(60) scale(0.95)" stroke="#6f8a95"/>
<use href="#brach" transform="translate(1345,1524) rotate(-25) scale(0.95)" stroke="#111"/>
<use href="#pel" transform="translate(922.9,1218.6)" fill="#6f8a95"/>
<use href="#pel" transform="translate(959.5,1247.2)" fill="#6f8a95"/>
<use href="#pel" transform="translate(1338,1423)" fill="#6f8a95"/>
<use href="#bryo" transform="translate(952.6,1441.2) scale(0.8)" stroke="#7f98a2"/>
<use href="#bryo" transform="translate(615.4,1532) scale(0.8)" stroke="#333"/>
<use href="#bryo" transform="translate(999.2,1590) scale(0.8)" stroke="#222"/>
<use href="#coral" transform="translate(355,1375)" fill="#fff" fill-opacity="0.25" stroke="#7393a0" stroke-width="1.6"/>
<use href="#coral" transform="translate(393,1391.5)" fill="#fff" fill-opacity="0.25" stroke="#7393a0" stroke-width="1.6"/>
<use href="#coral" transform="translate(357.3,1405.7)" fill="#fff" fill-opacity="0.25" stroke="#7393a0" stroke-width="1.6"/>
<use href="#coral" transform="translate(442.6,1432.6)" fill="#fff" fill-opacity="0.25" stroke="#7393a0" stroke-width="1.6"/>
<use href="#coral" transform="translate(282,1391.8)" fill="#fff" fill-opacity="0.25" stroke="#8fa1a9" stroke-width="1.6"/>
<use href="#coral" transform="translate(314.9,1402.5)" fill="#fff" fill-opacity="0.25" stroke="#8fa1a9" stroke-width="1.6"/>
<use href="#coral" transform="translate(268.7,1425.6)" fill="#fff" fill-opacity="0.25" stroke="#8fa1a9" stroke-width="1.6"/>
<use href="#coral" transform="translate(212.8,1437.3)" fill="#fff" fill-opacity="0.25" stroke="#8fa1a9" stroke-width="1.6"/>
<use href="#coral" transform="translate(387.9,1432.9)" fill="#fff" fill-opacity="0.25" stroke="#8fa1a9" stroke-width="1.6"/>
<use href="#coral" transform="translate(335.8,1444.6)" fill="#fff" fill-opacity="0.25" stroke="#8fa1a9" stroke-width="1.6"/>
<use href="#coral" transform="translate(290.9,1461.3)" fill="#fff" fill-opacity="0.25" stroke="#8fa1a9" stroke-width="1.6"/>
<use href="#coral" transform="translate(423.7,1503)" fill="#fff" fill-opacity="0.25" stroke="#8fa1a9" stroke-width="1.6"/>
<use href="#coral" transform="translate(367.7,1514.8)" fill="#fff" fill-opacity="0.25" stroke="#8fa1a9" stroke-width="1.6"/>
<use href="#coral" transform="translate(490,1522)" fill="#fff" fill-opacity="0.25" stroke="#8fa1a9" stroke-width="1.6"/>
<use href="#coral" transform="translate(445.8,1538.5)" fill="#fff" fill-opacity="0.25" stroke="#8fa1a9" stroke-width="1.6"/>
<path d="M1660.3,1167.3C1659.7,1166.8 1660.9,1162.4 1656.9,1164.3C1652.9,1166.2 1645.8,1174 1636.4,1178.8C1627.1,1183.5 1616,1188.5 1600.8,1192.8C1585.6,1197.1 1562.8,1201.6 1545,1204.4C1527.2,1207.2 1516.6,1209.7 1494,1209.5C1471.4,1209.3 1432.1,1204.4 1409.4,1203C1386.7,1201.6 1370.8,1200.6 1358,1201C1345.2,1201.4 1337.9,1203.1 1332.6,1205.6C1327.3,1208.1 1327.1,1214.3 1326,1216C1326.7,1218.1 1324.7,1221 1330,1228.7C1335.3,1236.4 1344.8,1249.6 1358,1262C1371.2,1274.4 1386.7,1289.8 1409.4,1303C1432.1,1316.2 1471.4,1331.5 1494,1341.3C1516.6,1351.1 1527.9,1356.6 1545,1361.7C1562.1,1366.8 1579.3,1370.3 1596.4,1372C1613.5,1373.7 1630.5,1373.1 1647.5,1372C1664.5,1370.9 1686.5,1368.2 1698.7,1365.6C1710.9,1363 1716.9,1358.1 1720.5,1356.6C1719.8,1355.8 1722.4,1357.9 1716.6,1351.5C1710.8,1345.1 1696.6,1330.4 1685.9,1318C1675.2,1305.6 1662,1289.2 1652.6,1277.3C1643.2,1265.4 1635.1,1256 1629.6,1246.6C1624.1,1237.2 1621.2,1227.7 1619.4,1221C1617.6,1214.3 1617.1,1210.9 1618.5,1206.5C1619.9,1202.1 1623,1198.2 1628,1194.5C1633,1190.8 1642.4,1188 1648.6,1184.2C1654.8,1180.4 1663,1174.4 1665,1171.6C1667,1168.8 1661.1,1168 1660.3,1167.3Z" fill="none" stroke="#222" stroke-width="0.9"/>
<clipPath id="cBl"><rect x="0" y="950" width="1069" height="960"/></clipPath><clipPath id="cBr"><rect x="1069" y="950" width="930" height="960"/></clipPath>
<path d="M7,1479C53.2,1462 201.9,1407.2 284.5,1377.2C367.1,1347.2 450.1,1318.4 502.7,1299.3C555.3,1280.2 571,1273.2 600,1262.6C629,1252 651.2,1244.9 676.8,1235.7C702.4,1226.5 734.3,1214.9 753.5,1207.6C772.7,1200.3 779.2,1195.8 792,1192C804.8,1188.2 817.2,1185.3 830,1184.5C842.8,1183.7 855.9,1185.9 868.7,1187C881.5,1188.1 894.2,1190.8 907,1191C919.8,1191.2 932.6,1190.6 945.4,1188.4C958.2,1186.2 974.7,1180.9 983.8,1178C992.9,1175.1 991.5,1175.3 1000,1171C1008.5,1166.7 1023.5,1157.7 1035,1152C1046.5,1146.3 1056.5,1142.3 1069,1136.6C1081.5,1130.9 1095.9,1124.2 1110,1118C1124.1,1111.8 1134.7,1106.8 1153.5,1099.5C1172.3,1092.2 1201.3,1082 1222.6,1073.9C1243.9,1065.8 1258.9,1058.7 1281.5,1050.8C1304.1,1042.9 1339.1,1032.3 1358,1026.5C1376.9,1020.7 1386,1018.2 1395,1016C1404,1013.8 1409.2,1013.7 1412,1013.2C1416.7,1013.8 1426.3,1014.4 1440,1017C1453.7,1019.6 1468,1022.5 1494,1029C1520,1035.5 1561.9,1047 1596,1056C1630.1,1065 1673,1074.5 1698.7,1082.8C1724.4,1091.1 1724.5,1094.9 1750,1105.9C1775.5,1116.9 1823.7,1137.3 1852,1149C1880.3,1160.7 1898.2,1167.4 1920,1176C1941.8,1184.6 1972.2,1196.4 1982.7,1200.5" fill="none" stroke="#1a282d" stroke-width="2" stroke-linejoin="round" clip-path="url(#cBl)"/>
<path d="M7,1479C53.2,1462 201.9,1407.2 284.5,1377.2C367.1,1347.2 450.1,1318.4 502.7,1299.3C555.3,1280.2 571,1273.2 600,1262.6C629,1252 651.2,1244.9 676.8,1235.7C702.4,1226.5 734.3,1214.9 753.5,1207.6C772.7,1200.3 779.2,1195.8 792,1192C804.8,1188.2 817.2,1185.3 830,1184.5C842.8,1183.7 855.9,1185.9 868.7,1187C881.5,1188.1 894.2,1190.8 907,1191C919.8,1191.2 932.6,1190.6 945.4,1188.4C958.2,1186.2 974.7,1180.9 983.8,1178C992.9,1175.1 991.5,1175.3 1000,1171C1008.5,1166.7 1023.5,1157.7 1035,1152C1046.5,1146.3 1056.5,1142.3 1069,1136.6C1081.5,1130.9 1095.9,1124.2 1110,1118C1124.1,1111.8 1134.7,1106.8 1153.5,1099.5C1172.3,1092.2 1201.3,1082 1222.6,1073.9C1243.9,1065.8 1258.9,1058.7 1281.5,1050.8C1304.1,1042.9 1339.1,1032.3 1358,1026.5C1376.9,1020.7 1386,1018.2 1395,1016C1404,1013.8 1409.2,1013.7 1412,1013.2C1416.7,1013.8 1426.3,1014.4 1440,1017C1453.7,1019.6 1468,1022.5 1494,1029C1520,1035.5 1561.9,1047 1596,1056C1630.1,1065 1673,1074.5 1698.7,1082.8C1724.4,1091.1 1724.5,1094.9 1750,1105.9C1775.5,1116.9 1823.7,1137.3 1852,1149C1880.3,1160.7 1898.2,1167.4 1920,1176C1941.8,1184.6 1972.2,1196.4 1982.7,1200.5" fill="none" stroke="#000" stroke-width="2.8" stroke-linejoin="round" clip-path="url(#cBr)"/>
<path d="M1982.7,1200.5C1978,1205.6 1967.8,1219.9 1954.6,1231C1941.4,1242.1 1920.5,1256.3 1903.4,1267C1886.3,1277.7 1869.1,1284.8 1852,1295C1834.9,1305.2 1816.3,1317.8 1801,1328.5C1785.7,1339.2 1773.1,1349.4 1760,1359C1746.9,1368.6 1734.4,1376.7 1722.6,1386C1710.8,1395.3 1700.2,1407 1689,1414.6C1677.8,1422.2 1669.3,1427 1655.3,1431.5C1641.3,1436 1621.6,1439.3 1604.8,1441.6C1588,1443.8 1571.2,1443.3 1554.4,1445C1537.6,1446.7 1517.9,1448.8 1503.9,1451.6C1489.9,1454.4 1481.4,1457.2 1470.2,1461.7C1459,1466.2 1447.8,1472.4 1436.6,1478.6C1425.4,1484.8 1417,1490.1 1403,1498.8C1389,1507.5 1369.2,1520 1352.4,1530.7C1335.6,1541.4 1320.5,1551.2 1302,1562.7C1283.5,1574.2 1292.7,1572.3 1241.4,1600C1190.1,1627.7 1059.2,1694.8 994,1729C928.8,1763.2 874,1792.3 850,1805" fill="none" stroke="#000" stroke-width="2.2" stroke-linejoin="round"/>
<path d="M7,1479L7,1578L849,1907L1981,1484L1982.7,1200.5M850,1805L849,1907M7,1479L850,1805" fill="none" stroke="#000" stroke-width="1.4" stroke-linejoin="round"/>
<path d="M1325.5,1071.8C1337.2,1045.4 1353,1027.2 1359.5,1027C1366,1026.8 1382.7,1051.6 1404.3,1077.7" fill="none" stroke="#000" stroke-width="2" stroke-linecap="round"/>
<path d="M1450.4,1047C1463.8,1036.1 1475,1033 1481,1035.5C1487,1038 1500.8,1062.5 1508.6,1095" fill="none" stroke="#000" stroke-width="2" stroke-linecap="round"/>
<path d="M1577,1081.5C1595.7,1066.8 1613.3,1062.2 1619.4,1064.4C1625.5,1066.6 1632.5,1079.1 1637.8,1098" fill="none" stroke="#000" stroke-width="2" stroke-linecap="round"/>
<path d="M1587.4,1121.7C1620.5,1110.8 1648.9,1104.2 1655,1106.4C1661.1,1108.6 1667.6,1117.2 1675,1132" fill="none" stroke="#000" stroke-width="2" stroke-linecap="round"/>
<path d="M1734.5,1140.4C1751,1125.7 1766.8,1121.2 1773,1123C1779.2,1124.8 1787.9,1137.9 1795.4,1157.5" fill="none" stroke="#000" stroke-width="2" stroke-linecap="round"/>
<path d="M1796,1188C1807.8,1176.9 1817.9,1173.8 1824,1176C1830.1,1178.2 1845.3,1203.5 1854.8,1236.9" fill="none" stroke="#000" stroke-width="2" stroke-linecap="round"/>
<path d="M1884,1196.7C1902.7,1182 1920.3,1177.3 1926.4,1179.5C1932.5,1181.7 1938.3,1194.7 1944.4,1213" fill="none" stroke="#000" stroke-width="2" stroke-linecap="round"/>
<path d="M41.9,1215.6L41.9,1265" stroke="#000" stroke-width="1.6"/>
<path d="M478.7,1157.9L478.7,1208.2" stroke="#000" stroke-width="1.6"/>
<path d="M817.3,1117L817.3,1167" stroke="#000" stroke-width="1.6"/>
<path d="M1047.7,1085.3L1047.7,1135" stroke="#000" stroke-width="1.6"/>
<path d="M1222.3,1023L1222.3,1073.8" stroke="#000" stroke-width="1.6"/>
<text transform="translate(16,1061.5) scale(1.02,1)" font-size="98" fill="#111">B</text>
<text transform="translate(202.8,1163.2) scale(0.83,1)" font-size="45.5" fill="#29d8f0" textLength="81.9" lengthAdjust="spacing">FA4</text>
<text transform="translate(134.3,1215.6) scale(0.86,1)" font-size="35.5" fill="#111" textLength="216.3" lengthAdjust="spacing">middle ramp</text>
<text transform="translate(627,1114.5) scale(0.83,1)" font-size="45.5" fill="#29d8f0" textLength="82.7" lengthAdjust="spacing">FA3</text>
<text transform="translate(561.8,1154.3) scale(0.86,1)" font-size="35.5" fill="#111" textLength="186" lengthAdjust="spacing">inner ramp</text>
<text transform="translate(900.4,1092.2) scale(0.83,1)" font-size="45.5" fill="#29d8f0" textLength="82.4" lengthAdjust="spacing">FA5</text>
<text transform="translate(873.3,1134.9) scale(0.86,1)" font-size="35.5" fill="#111" textLength="117.1" lengthAdjust="spacing">lagoon</text>
<text transform="translate(1099.3,1010.6) scale(0.83,1)" font-size="45.5" fill="#29d8f0" textLength="76.7" lengthAdjust="spacing">FA1</text>
<text transform="translate(1056.3,1046.5) scale(0.86,1)" font-size="35.5" fill="#111" textLength="183.8" lengthAdjust="spacing">braid delta</text>
<text transform="translate(19,1376.6) rotate(-12) scale(1.0,1)" font-size="37.5" fill="#111" textLength="126" lengthAdjust="spacing">FWWB</text>
<text transform="translate(1418.8,930.3) rotate(8.3) scale(0.86,1)" font-size="36" fill="#111" textLength="221.7" lengthAdjust="spacing">Precipitation</text>
<use href="#cloud" transform="translate(1565.3,849.2) scale(0.09062)"/>
<use href="#cloud" transform="translate(1675.3,877.7) scale(0.09062)"/>
<use href="#cloud" transform="translate(1810.3,908.7) scale(0.09062)"/>
<use href="#drop" transform="translate(1648.4,942.4)"/>
<use href="#drop" transform="translate(1628.7,978.1)"/>
<use href="#drop" transform="translate(1765,964.2)"/>
<use href="#drop" transform="translate(1741.4,1015.7)"/>
<use href="#drop" transform="translate(1864,1000.5)"/>
<use href="#drop" transform="translate(1893,993.3)"/>
<use href="#drop" transform="translate(1873.4,1034.5)"/>
</g>
<g id="legend">
<text transform="translate(1777,1624.5) scale(1.0,1)" font-size="48" fill="#111" textLength="178" lengthAdjust="spacing" font-weight="bold">Legend</text>
<text transform="translate(1543.6,1702.4) scale(0.86,1)" font-size="35" fill="#111" textLength="204.4" lengthAdjust="spacing">Gastropods</text>
<text transform="translate(1843.8,1702.4) scale(0.86,1)" font-size="35" fill="#111" textLength="144.7" lengthAdjust="spacing">Crinoids</text>
<text transform="translate(1316.4,1790) scale(0.86,1)" font-size="35" fill="#111" textLength="180.2" lengthAdjust="spacing">Fusulinids</text>
<text transform="translate(1566.6,1788) scale(0.86,1)" font-size="35" fill="#111" textLength="112.3" lengthAdjust="spacing">Corals</text>
<text transform="translate(1779,1789) scale(0.86,1)" font-size="35" fill="#111" textLength="219.8" lengthAdjust="spacing">Brachiopods</text>
<text transform="translate(1115.2,1874.6) scale(0.86,1)" font-size="35" fill="#111" textLength="89.8" lengthAdjust="spacing">Plant</text>
<text transform="translate(1273,1877.6) scale(0.86,1)" font-size="35" fill="#111" textLength="244.8" lengthAdjust="spacing">Foraminiferas</text>
<text transform="translate(1581.6,1878.7) scale(0.86,1)" font-size="35" fill="#111" textLength="185.5" lengthAdjust="spacing">Bryozoans</text>
<text transform="translate(1841,1875.8) scale(0.86,1)" font-size="35" fill="#111" textLength="129.4" lengthAdjust="spacing">Peliods</text>
<use href="#gas" transform="translate(1511.6,1688.5)" stroke="#111" stroke-width="0.8"/>
<use href="#stem" transform="translate(1779,1688.3) rotate(58) scale(0.93)" fill="#fff" stroke="#111"/>
<use href="#ring" transform="translate(1812,1687.2) scale(1.12)" stroke="#111"/>
<use href="#lens" transform="translate(1237.9,1783) rotate(-24) scale(0.95)" stroke="#111" stroke-width="0.9" fill="#fff"/>
<g class="k"><use href="#rfus" transform="translate(1278.7,1780.7)" stroke="#111" stroke-width="0.8" fill="#fff"/></g>
<use href="#coral" transform="translate(1537.8,1777.5)" fill="#fff" stroke="#111" stroke-width="2.2"/>
<use href="#brach" transform="translate(1752.7,1779)" stroke="#111"/>
<use href="#plant" transform="translate(1078.6,1867.5) scale(1.25)"/>
<use href="#foram" transform="translate(1244.7,1864.7)" stroke="#222" stroke-width="0.6"/>
<use href="#bryo" transform="translate(1550.5,1866.8)" stroke="#222"/>
<use href="#pel" transform="translate(1798,1865.4)" fill="#111"/>
</g>
</svg>
</body></html>
